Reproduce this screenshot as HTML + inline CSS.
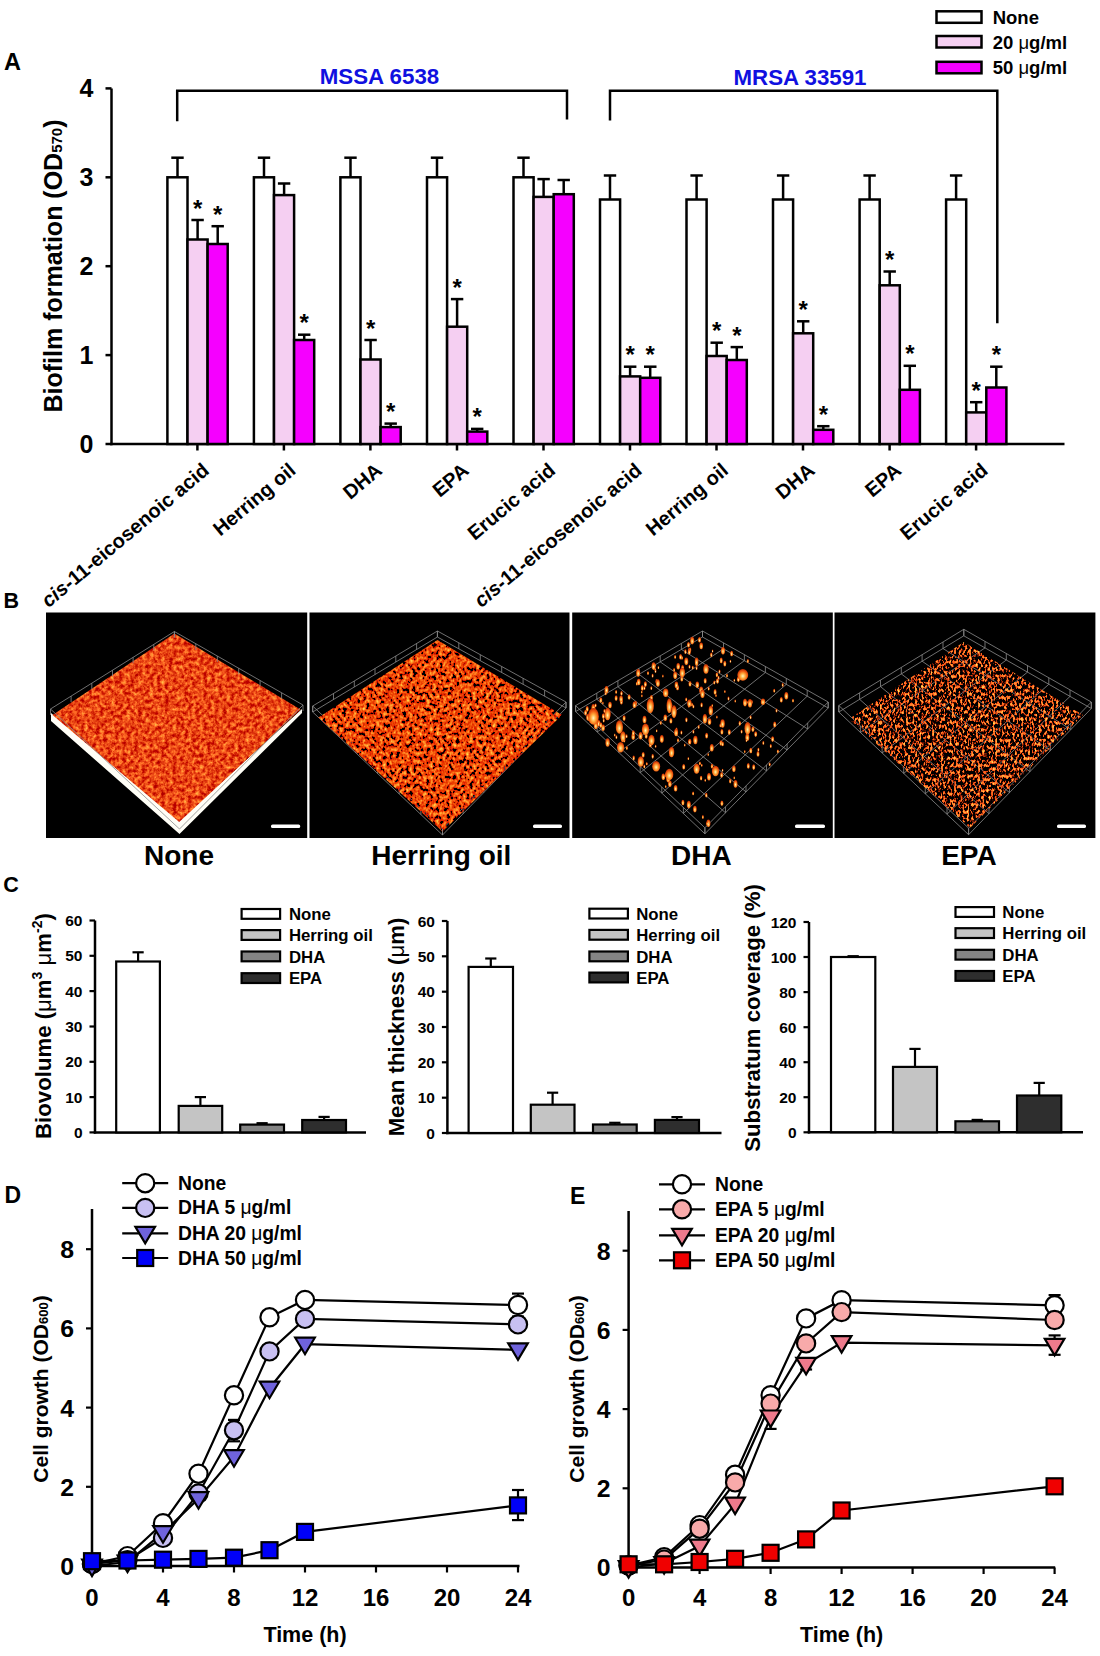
<!DOCTYPE html>
<html><head><meta charset="utf-8"><style>
html,body{margin:0;padding:0;background:#fff;width:1100px;height:1656px;overflow:hidden}
svg{display:block;font-family:"Liberation Sans", sans-serif}
</style></head><body>
<svg width="1100" height="1656" viewBox="0 0 1100 1656">
<rect width="1100" height="1656" fill="#fff"/>
<text x="4.0" y="69.5" font-size="23.5" text-anchor="start" font-weight="bold" fill="#000" >A</text>
<line x1="111.5" y1="88.4" x2="111.5" y2="445.2" stroke="#000" stroke-width="2.5"/>
<line x1="110.3" y1="444.0" x2="1064.5" y2="444.0" stroke="#000" stroke-width="2.5"/>
<line x1="105.5" y1="444.0" x2="111.5" y2="444.0" stroke="#000" stroke-width="2.5"/>
<text x="93.5" y="453.0" font-size="25" text-anchor="end" font-weight="bold" fill="#000" >0</text>
<line x1="105.5" y1="355.1" x2="111.5" y2="355.1" stroke="#000" stroke-width="2.5"/>
<text x="93.5" y="364.1" font-size="25" text-anchor="end" font-weight="bold" fill="#000" >1</text>
<line x1="105.5" y1="266.2" x2="111.5" y2="266.2" stroke="#000" stroke-width="2.5"/>
<text x="93.5" y="275.2" font-size="25" text-anchor="end" font-weight="bold" fill="#000" >2</text>
<line x1="105.5" y1="177.3" x2="111.5" y2="177.3" stroke="#000" stroke-width="2.5"/>
<text x="93.5" y="186.3" font-size="25" text-anchor="end" font-weight="bold" fill="#000" >3</text>
<line x1="105.5" y1="88.4" x2="111.5" y2="88.4" stroke="#000" stroke-width="2.5"/>
<text x="93.5" y="97.4" font-size="25" text-anchor="end" font-weight="bold" fill="#000" >4</text>
<text transform="translate(61.8,266) rotate(-90)" font-size="25" font-weight="bold" text-anchor="middle">Biofilm formation (OD<tspan font-size="15" dy="0">570</tspan>)</text>
<line x1="177.5" y1="157.7" x2="177.5" y2="177.3" stroke="#000" stroke-width="2.5"/>
<line x1="171.3" y1="157.7" x2="183.7" y2="157.7" stroke="#000" stroke-width="2.5"/>
<rect x="167.4" y="177.3" width="20.1" height="266.7" fill="#fff" stroke="#000" stroke-width="2.5"/>
<line x1="197.6" y1="220.0" x2="197.6" y2="239.5" stroke="#000" stroke-width="2.5"/>
<line x1="191.4" y1="220.0" x2="203.8" y2="220.0" stroke="#000" stroke-width="2.5"/>
<rect x="187.5" y="239.5" width="20.1" height="204.5" fill="#F5CFF2" stroke="#000" stroke-width="2.5"/>
<text x="197.6" y="216.5" font-size="24" text-anchor="middle" font-weight="bold" fill="#000" >*</text>
<line x1="217.7" y1="226.2" x2="217.7" y2="244.0" stroke="#000" stroke-width="2.5"/>
<line x1="211.5" y1="226.2" x2="223.9" y2="226.2" stroke="#000" stroke-width="2.5"/>
<rect x="207.6" y="244.0" width="20.1" height="200.0" fill="#F500FF" stroke="#000" stroke-width="2.5"/>
<text x="217.7" y="222.7" font-size="24" text-anchor="middle" font-weight="bold" fill="#000" >*</text>
<line x1="197.4" y1="444.0" x2="197.4" y2="450.5" stroke="#000" stroke-width="2.5"/>
<line x1="264.0" y1="157.7" x2="264.0" y2="177.3" stroke="#000" stroke-width="2.5"/>
<line x1="257.8" y1="157.7" x2="270.2" y2="157.7" stroke="#000" stroke-width="2.5"/>
<rect x="253.9" y="177.3" width="20.1" height="266.7" fill="#fff" stroke="#000" stroke-width="2.5"/>
<line x1="284.1" y1="183.5" x2="284.1" y2="195.1" stroke="#000" stroke-width="2.5"/>
<line x1="277.9" y1="183.5" x2="290.3" y2="183.5" stroke="#000" stroke-width="2.5"/>
<rect x="274.0" y="195.1" width="20.1" height="248.9" fill="#F5CFF2" stroke="#000" stroke-width="2.5"/>
<line x1="304.2" y1="334.7" x2="304.2" y2="340.0" stroke="#000" stroke-width="2.5"/>
<line x1="298.0" y1="334.7" x2="310.4" y2="334.7" stroke="#000" stroke-width="2.5"/>
<rect x="294.1" y="340.0" width="20.1" height="104.0" fill="#F500FF" stroke="#000" stroke-width="2.5"/>
<text x="304.2" y="331.2" font-size="24" text-anchor="middle" font-weight="bold" fill="#000" >*</text>
<line x1="283.9" y1="444.0" x2="283.9" y2="450.5" stroke="#000" stroke-width="2.5"/>
<line x1="350.5" y1="157.7" x2="350.5" y2="177.3" stroke="#000" stroke-width="2.5"/>
<line x1="344.3" y1="157.7" x2="356.7" y2="157.7" stroke="#000" stroke-width="2.5"/>
<rect x="340.4" y="177.3" width="20.1" height="266.7" fill="#fff" stroke="#000" stroke-width="2.5"/>
<line x1="370.6" y1="340.0" x2="370.6" y2="359.5" stroke="#000" stroke-width="2.5"/>
<line x1="364.4" y1="340.0" x2="376.8" y2="340.0" stroke="#000" stroke-width="2.5"/>
<rect x="360.5" y="359.5" width="20.1" height="84.5" fill="#F5CFF2" stroke="#000" stroke-width="2.5"/>
<text x="370.6" y="336.5" font-size="24" text-anchor="middle" font-weight="bold" fill="#000" >*</text>
<line x1="390.7" y1="423.6" x2="390.7" y2="427.1" stroke="#000" stroke-width="2.5"/>
<line x1="384.5" y1="423.6" x2="396.9" y2="423.6" stroke="#000" stroke-width="2.5"/>
<rect x="380.6" y="427.1" width="20.1" height="16.9" fill="#F500FF" stroke="#000" stroke-width="2.5"/>
<text x="390.7" y="420.1" font-size="24" text-anchor="middle" font-weight="bold" fill="#000" >*</text>
<line x1="370.4" y1="444.0" x2="370.4" y2="450.5" stroke="#000" stroke-width="2.5"/>
<line x1="437.0" y1="157.7" x2="437.0" y2="177.3" stroke="#000" stroke-width="2.5"/>
<line x1="430.8" y1="157.7" x2="443.2" y2="157.7" stroke="#000" stroke-width="2.5"/>
<rect x="427.0" y="177.3" width="20.1" height="266.7" fill="#fff" stroke="#000" stroke-width="2.5"/>
<line x1="457.1" y1="299.1" x2="457.1" y2="326.7" stroke="#000" stroke-width="2.5"/>
<line x1="450.9" y1="299.1" x2="463.3" y2="299.1" stroke="#000" stroke-width="2.5"/>
<rect x="447.1" y="326.7" width="20.1" height="117.3" fill="#F5CFF2" stroke="#000" stroke-width="2.5"/>
<text x="457.1" y="295.6" font-size="24" text-anchor="middle" font-weight="bold" fill="#000" >*</text>
<line x1="477.2" y1="428.9" x2="477.2" y2="431.6" stroke="#000" stroke-width="2.5"/>
<line x1="471.0" y1="428.9" x2="483.4" y2="428.9" stroke="#000" stroke-width="2.5"/>
<rect x="467.2" y="431.6" width="20.1" height="12.4" fill="#F500FF" stroke="#000" stroke-width="2.5"/>
<text x="477.2" y="425.4" font-size="24" text-anchor="middle" font-weight="bold" fill="#000" >*</text>
<line x1="457.0" y1="444.0" x2="457.0" y2="450.5" stroke="#000" stroke-width="2.5"/>
<line x1="523.5" y1="157.7" x2="523.5" y2="177.3" stroke="#000" stroke-width="2.5"/>
<line x1="517.3" y1="157.7" x2="529.7" y2="157.7" stroke="#000" stroke-width="2.5"/>
<rect x="513.5" y="177.3" width="20.1" height="266.7" fill="#fff" stroke="#000" stroke-width="2.5"/>
<line x1="543.6" y1="179.1" x2="543.6" y2="196.9" stroke="#000" stroke-width="2.5"/>
<line x1="537.4" y1="179.1" x2="549.8" y2="179.1" stroke="#000" stroke-width="2.5"/>
<rect x="533.6" y="196.9" width="20.1" height="247.1" fill="#F5CFF2" stroke="#000" stroke-width="2.5"/>
<line x1="563.7" y1="180.0" x2="563.7" y2="194.2" stroke="#000" stroke-width="2.5"/>
<line x1="557.5" y1="180.0" x2="569.9" y2="180.0" stroke="#000" stroke-width="2.5"/>
<rect x="553.7" y="194.2" width="20.1" height="249.8" fill="#F500FF" stroke="#000" stroke-width="2.5"/>
<line x1="543.5" y1="444.0" x2="543.5" y2="450.5" stroke="#000" stroke-width="2.5"/>
<line x1="610.0" y1="175.5" x2="610.0" y2="199.5" stroke="#000" stroke-width="2.5"/>
<line x1="603.8" y1="175.5" x2="616.2" y2="175.5" stroke="#000" stroke-width="2.5"/>
<rect x="600.0" y="199.5" width="20.1" height="244.5" fill="#fff" stroke="#000" stroke-width="2.5"/>
<line x1="630.1" y1="366.7" x2="630.1" y2="376.4" stroke="#000" stroke-width="2.5"/>
<line x1="623.9" y1="366.7" x2="636.4" y2="366.7" stroke="#000" stroke-width="2.5"/>
<rect x="620.1" y="376.4" width="20.1" height="67.6" fill="#F5CFF2" stroke="#000" stroke-width="2.5"/>
<text x="630.1" y="363.2" font-size="24" text-anchor="middle" font-weight="bold" fill="#000" >*</text>
<line x1="650.2" y1="366.7" x2="650.2" y2="377.8" stroke="#000" stroke-width="2.5"/>
<line x1="644.0" y1="366.7" x2="656.5" y2="366.7" stroke="#000" stroke-width="2.5"/>
<rect x="640.2" y="377.8" width="20.1" height="66.2" fill="#F500FF" stroke="#000" stroke-width="2.5"/>
<text x="650.2" y="363.2" font-size="24" text-anchor="middle" font-weight="bold" fill="#000" >*</text>
<line x1="630.0" y1="444.0" x2="630.0" y2="450.5" stroke="#000" stroke-width="2.5"/>
<line x1="696.6" y1="175.5" x2="696.6" y2="199.5" stroke="#000" stroke-width="2.5"/>
<line x1="690.4" y1="175.5" x2="702.8" y2="175.5" stroke="#000" stroke-width="2.5"/>
<rect x="686.5" y="199.5" width="20.1" height="244.5" fill="#fff" stroke="#000" stroke-width="2.5"/>
<line x1="716.7" y1="342.7" x2="716.7" y2="356.0" stroke="#000" stroke-width="2.5"/>
<line x1="710.5" y1="342.7" x2="722.9" y2="342.7" stroke="#000" stroke-width="2.5"/>
<rect x="706.6" y="356.0" width="20.1" height="88.0" fill="#F5CFF2" stroke="#000" stroke-width="2.5"/>
<text x="716.7" y="339.2" font-size="24" text-anchor="middle" font-weight="bold" fill="#000" >*</text>
<line x1="736.8" y1="347.1" x2="736.8" y2="360.0" stroke="#000" stroke-width="2.5"/>
<line x1="730.6" y1="347.1" x2="743.0" y2="347.1" stroke="#000" stroke-width="2.5"/>
<rect x="726.7" y="360.0" width="20.1" height="84.0" fill="#F500FF" stroke="#000" stroke-width="2.5"/>
<text x="736.8" y="343.6" font-size="24" text-anchor="middle" font-weight="bold" fill="#000" >*</text>
<line x1="716.5" y1="444.0" x2="716.5" y2="450.5" stroke="#000" stroke-width="2.5"/>
<line x1="783.1" y1="175.5" x2="783.1" y2="199.5" stroke="#000" stroke-width="2.5"/>
<line x1="776.9" y1="175.5" x2="789.3" y2="175.5" stroke="#000" stroke-width="2.5"/>
<rect x="773.0" y="199.5" width="20.1" height="244.5" fill="#fff" stroke="#000" stroke-width="2.5"/>
<line x1="803.2" y1="321.3" x2="803.2" y2="333.3" stroke="#000" stroke-width="2.5"/>
<line x1="797.0" y1="321.3" x2="809.4" y2="321.3" stroke="#000" stroke-width="2.5"/>
<rect x="793.1" y="333.3" width="20.1" height="110.7" fill="#F5CFF2" stroke="#000" stroke-width="2.5"/>
<text x="803.2" y="317.8" font-size="24" text-anchor="middle" font-weight="bold" fill="#000" >*</text>
<line x1="823.3" y1="426.2" x2="823.3" y2="429.8" stroke="#000" stroke-width="2.5"/>
<line x1="817.1" y1="426.2" x2="829.5" y2="426.2" stroke="#000" stroke-width="2.5"/>
<rect x="813.2" y="429.8" width="20.1" height="14.2" fill="#F500FF" stroke="#000" stroke-width="2.5"/>
<text x="823.3" y="422.7" font-size="24" text-anchor="middle" font-weight="bold" fill="#000" >*</text>
<line x1="803.0" y1="444.0" x2="803.0" y2="450.5" stroke="#000" stroke-width="2.5"/>
<line x1="869.6" y1="175.5" x2="869.6" y2="199.5" stroke="#000" stroke-width="2.5"/>
<line x1="863.4" y1="175.5" x2="875.8" y2="175.5" stroke="#000" stroke-width="2.5"/>
<rect x="859.6" y="199.5" width="20.1" height="244.5" fill="#fff" stroke="#000" stroke-width="2.5"/>
<line x1="889.7" y1="271.5" x2="889.7" y2="285.3" stroke="#000" stroke-width="2.5"/>
<line x1="883.5" y1="271.5" x2="895.9" y2="271.5" stroke="#000" stroke-width="2.5"/>
<rect x="879.7" y="285.3" width="20.1" height="158.7" fill="#F5CFF2" stroke="#000" stroke-width="2.5"/>
<text x="889.7" y="268.0" font-size="24" text-anchor="middle" font-weight="bold" fill="#000" >*</text>
<line x1="909.8" y1="365.8" x2="909.8" y2="389.8" stroke="#000" stroke-width="2.5"/>
<line x1="903.6" y1="365.8" x2="916.0" y2="365.8" stroke="#000" stroke-width="2.5"/>
<rect x="899.8" y="389.8" width="20.1" height="54.2" fill="#F500FF" stroke="#000" stroke-width="2.5"/>
<text x="909.8" y="362.3" font-size="24" text-anchor="middle" font-weight="bold" fill="#000" >*</text>
<line x1="889.6" y1="444.0" x2="889.6" y2="450.5" stroke="#000" stroke-width="2.5"/>
<line x1="956.1" y1="175.5" x2="956.1" y2="199.5" stroke="#000" stroke-width="2.5"/>
<line x1="949.9" y1="175.5" x2="962.3" y2="175.5" stroke="#000" stroke-width="2.5"/>
<rect x="946.1" y="199.5" width="20.1" height="244.5" fill="#fff" stroke="#000" stroke-width="2.5"/>
<line x1="976.2" y1="402.2" x2="976.2" y2="412.4" stroke="#000" stroke-width="2.5"/>
<line x1="970.0" y1="402.2" x2="982.4" y2="402.2" stroke="#000" stroke-width="2.5"/>
<rect x="966.2" y="412.4" width="20.1" height="31.6" fill="#F5CFF2" stroke="#000" stroke-width="2.5"/>
<text x="976.2" y="398.7" font-size="24" text-anchor="middle" font-weight="bold" fill="#000" >*</text>
<line x1="996.3" y1="366.7" x2="996.3" y2="387.5" stroke="#000" stroke-width="2.5"/>
<line x1="990.1" y1="366.7" x2="1002.5" y2="366.7" stroke="#000" stroke-width="2.5"/>
<rect x="986.3" y="387.5" width="20.1" height="56.5" fill="#F500FF" stroke="#000" stroke-width="2.5"/>
<text x="996.3" y="363.2" font-size="24" text-anchor="middle" font-weight="bold" fill="#000" >*</text>
<line x1="976.1" y1="444.0" x2="976.1" y2="450.5" stroke="#000" stroke-width="2.5"/>
<text transform="translate(210.4,472.5) rotate(-40)" font-size="20" font-weight="bold" text-anchor="end"><tspan font-style="italic">cis</tspan>-11-eicosenoic acid</text>
<text transform="translate(296.9,472.5) rotate(-40)" font-size="20" font-weight="bold" text-anchor="end">Herring oil</text>
<text transform="translate(383.4,472.5) rotate(-40)" font-size="20" font-weight="bold" text-anchor="end">DHA</text>
<text transform="translate(470.0,472.5) rotate(-40)" font-size="20" font-weight="bold" text-anchor="end">EPA</text>
<text transform="translate(556.5,472.5) rotate(-40)" font-size="20" font-weight="bold" text-anchor="end">Erucic acid</text>
<text transform="translate(643.0,472.5) rotate(-40)" font-size="20" font-weight="bold" text-anchor="end"><tspan font-style="italic">cis</tspan>-11-eicosenoic acid</text>
<text transform="translate(729.5,472.5) rotate(-40)" font-size="20" font-weight="bold" text-anchor="end">Herring oil</text>
<text transform="translate(816.0,472.5) rotate(-40)" font-size="20" font-weight="bold" text-anchor="end">DHA</text>
<text transform="translate(902.6,472.5) rotate(-40)" font-size="20" font-weight="bold" text-anchor="end">EPA</text>
<text transform="translate(989.1,472.5) rotate(-40)" font-size="20" font-weight="bold" text-anchor="end">Erucic acid</text>
<path d="M177.2,121.3 V90.8 H567 V119.6" fill="none" stroke="#000" stroke-width="2.5"/>
<path d="M610,120.5 V90.8 H997.3 V323.3" fill="none" stroke="#000" stroke-width="2.5"/>
<text x="379.5" y="84.0" font-size="22.3" text-anchor="middle" font-weight="bold" fill="#1010E0" >MSSA 6538</text>
<text x="800.0" y="85.0" font-size="22.3" text-anchor="middle" font-weight="bold" fill="#1010E0" >MRSA 33591</text>
<rect x="936.5" y="11.3" width="45.0" height="11.5" fill="#fff" stroke="#000" stroke-width="2.5"/>
<text x="992.7" y="23.8" font-size="18.5" text-anchor="start" font-weight="bold" fill="#000" >None</text>
<rect x="936.5" y="36.0" width="45.0" height="11.5" fill="#F5CFF2" stroke="#000" stroke-width="2.5"/>
<text x="992.7" y="48.5" font-size="18.5" text-anchor="start" font-weight="bold" fill="#000" >20 <tspan font-weight="normal">μ</tspan>g/ml</text>
<rect x="936.5" y="61.8" width="45.0" height="11.5" fill="#F500FF" stroke="#000" stroke-width="2.5"/>
<text x="992.7" y="74.3" font-size="18.5" text-anchor="start" font-weight="bold" fill="#000" >50 <tspan font-weight="normal">μ</tspan>g/ml</text>
<text x="3.5" y="607.8" font-size="21.5" text-anchor="start" font-weight="bold" fill="#000" >B</text>
<rect x="46" y="612.5" width="261.2" height="225.5" fill="#000"/>
<rect x="309.5" y="612.5" width="260.0" height="225.5" fill="#000"/>
<rect x="572.2" y="612.5" width="260.6" height="225.5" fill="#000"/>
<rect x="834.5" y="612.5" width="260.9" height="225.5" fill="#000"/>
<defs>
<radialGradient id="bg" cx="0.5" cy="0.6" r="0.6"><stop offset="0" stop-color="#FFF4C0"/><stop offset="0.35" stop-color="#FFB040"/><stop offset="0.7" stop-color="#F05A10"/><stop offset="1" stop-color="#B82800"/></radialGradient>
<filter id="t1" x="40" y="610" width="270" height="230" filterUnits="userSpaceOnUse" color-interpolation-filters="sRGB">
<feTurbulence type="fractalNoise" baseFrequency="0.26" numOctaves="3" seed="4"/>
<feColorMatrix type="matrix" values="0.7 0 0 0 0.56  1.15 0 0 0 -0.3  0.5 0 0 0 -0.17  0 0 0 0 1"/>
</filter>
<filter id="t2" x="300" y="610" width="280" height="230" filterUnits="userSpaceOnUse" color-interpolation-filters="sRGB">
<feTurbulence type="fractalNoise" baseFrequency="0.3 0.25" numOctaves="2" seed="7"/>
<feColorMatrix type="matrix" values="0.6 0 0 0 0.62  1.6 0 0 0 -0.55  0.8 0 0 0 -0.4  14 0 0 0 -4.6"/>
</filter>
<filter id="t4" x="830" y="610" width="270" height="230" filterUnits="userSpaceOnUse" color-interpolation-filters="sRGB">
<feTurbulence type="fractalNoise" baseFrequency="0.46 0.28" numOctaves="2" seed="11"/>
<feColorMatrix type="matrix" values="0.8 0 0 0 0.5  2.1 0 0 0 -0.9  1.0 0 0 0 -0.5  9 0 0 0 -4.2"/>
</filter>
<clipPath id="c1"><polygon points="174.4,633.6 300.6,709.5 179.2,822 52.5,715"/></clipPath>
<clipPath id="c2"><polygon points="437.5,640 562,715 442.5,831.5 318.5,717.5"/></clipPath>
<clipPath id="c4"><polygon points="963.8,642 1083,715 970,828 849,719"/></clipPath>
</defs>
<polygon points="51,713 179,821 302,709 302,713 179.5,834 51,721" fill="#FFFEF6"/>
<rect x="40" y="610" width="270" height="230" fill="#fff" filter="url(#t1)" clip-path="url(#c1)"/>
<polygon points="174.4,631.5 303.0,705.0 179.5,829.0 50.5,709.0" fill="none" stroke="#8C8C8C" stroke-width="0.8"/>
<line x1="174.4" y1="637.5" x2="174.4" y2="631.5" stroke="#8C8C8C" stroke-width="0.8"/>
<line x1="174.4" y1="637.5" x2="174.4" y2="631.5" stroke="#8C8C8C" stroke-width="0.8"/>
<line x1="195.8" y1="649.8" x2="195.8" y2="643.8" stroke="#8C8C8C" stroke-width="0.8"/>
<line x1="153.8" y1="650.4" x2="153.8" y2="644.4" stroke="#8C8C8C" stroke-width="0.8"/>
<line x1="217.3" y1="662.0" x2="217.3" y2="656.0" stroke="#8C8C8C" stroke-width="0.8"/>
<line x1="133.1" y1="663.3" x2="133.1" y2="657.3" stroke="#8C8C8C" stroke-width="0.8"/>
<line x1="238.7" y1="674.2" x2="238.7" y2="668.2" stroke="#8C8C8C" stroke-width="0.8"/>
<line x1="112.5" y1="676.2" x2="112.5" y2="670.2" stroke="#8C8C8C" stroke-width="0.8"/>
<line x1="260.1" y1="686.5" x2="260.1" y2="680.5" stroke="#8C8C8C" stroke-width="0.8"/>
<line x1="91.8" y1="689.2" x2="91.8" y2="683.2" stroke="#8C8C8C" stroke-width="0.8"/>
<line x1="281.6" y1="698.8" x2="281.6" y2="692.8" stroke="#8C8C8C" stroke-width="0.8"/>
<line x1="71.1" y1="702.1" x2="71.1" y2="696.1" stroke="#8C8C8C" stroke-width="0.8"/>
<line x1="303.0" y1="711.0" x2="303.0" y2="705.0" stroke="#8C8C8C" stroke-width="0.8"/>
<line x1="50.5" y1="715.0" x2="50.5" y2="709.0" stroke="#8C8C8C" stroke-width="0.8"/>
<polygon points="437.4,631.0 566.0,702.0 442.5,829.0 312.7,706.0" fill="none" stroke="#8C8C8C" stroke-width="0.8"/>
<polygon points="437.4,637.0 566.0,708.0 442.5,835.0 312.7,712.0" fill="none" stroke="#8C8C8C" stroke-width="0.8"/>
<line x1="437.4" y1="637.0" x2="437.4" y2="631.0" stroke="#8C8C8C" stroke-width="0.8"/>
<line x1="437.4" y1="637.0" x2="437.4" y2="631.0" stroke="#8C8C8C" stroke-width="0.8"/>
<line x1="312.7" y1="712.0" x2="312.7" y2="706.0" stroke="#8C8C8C" stroke-width="0.8"/>
<line x1="566.0" y1="708.0" x2="566.0" y2="702.0" stroke="#8C8C8C" stroke-width="0.8"/>
<line x1="458.8" y1="648.8" x2="458.8" y2="642.8" stroke="#8C8C8C" stroke-width="0.8"/>
<line x1="416.6" y1="649.5" x2="416.6" y2="643.5" stroke="#8C8C8C" stroke-width="0.8"/>
<line x1="334.3" y1="732.5" x2="334.3" y2="726.5" stroke="#8C8C8C" stroke-width="0.8"/>
<line x1="545.4" y1="729.2" x2="545.4" y2="723.2" stroke="#8C8C8C" stroke-width="0.8"/>
<line x1="480.3" y1="660.7" x2="480.3" y2="654.7" stroke="#8C8C8C" stroke-width="0.8"/>
<line x1="395.8" y1="662.0" x2="395.8" y2="656.0" stroke="#8C8C8C" stroke-width="0.8"/>
<line x1="356.0" y1="753.0" x2="356.0" y2="747.0" stroke="#8C8C8C" stroke-width="0.8"/>
<line x1="524.8" y1="750.3" x2="524.8" y2="744.3" stroke="#8C8C8C" stroke-width="0.8"/>
<line x1="501.7" y1="672.5" x2="501.7" y2="666.5" stroke="#8C8C8C" stroke-width="0.8"/>
<line x1="375.0" y1="674.5" x2="375.0" y2="668.5" stroke="#8C8C8C" stroke-width="0.8"/>
<line x1="377.6" y1="773.5" x2="377.6" y2="767.5" stroke="#8C8C8C" stroke-width="0.8"/>
<line x1="504.2" y1="771.5" x2="504.2" y2="765.5" stroke="#8C8C8C" stroke-width="0.8"/>
<line x1="523.1" y1="684.3" x2="523.1" y2="678.3" stroke="#8C8C8C" stroke-width="0.8"/>
<line x1="354.3" y1="687.0" x2="354.3" y2="681.0" stroke="#8C8C8C" stroke-width="0.8"/>
<line x1="399.2" y1="794.0" x2="399.2" y2="788.0" stroke="#8C8C8C" stroke-width="0.8"/>
<line x1="483.7" y1="792.7" x2="483.7" y2="786.7" stroke="#8C8C8C" stroke-width="0.8"/>
<line x1="544.6" y1="696.2" x2="544.6" y2="690.2" stroke="#8C8C8C" stroke-width="0.8"/>
<line x1="333.5" y1="699.5" x2="333.5" y2="693.5" stroke="#8C8C8C" stroke-width="0.8"/>
<line x1="420.9" y1="814.5" x2="420.9" y2="808.5" stroke="#8C8C8C" stroke-width="0.8"/>
<line x1="463.1" y1="813.8" x2="463.1" y2="807.8" stroke="#8C8C8C" stroke-width="0.8"/>
<line x1="566.0" y1="708.0" x2="566.0" y2="702.0" stroke="#8C8C8C" stroke-width="0.8"/>
<line x1="312.7" y1="712.0" x2="312.7" y2="706.0" stroke="#8C8C8C" stroke-width="0.8"/>
<line x1="442.5" y1="835.0" x2="442.5" y2="829.0" stroke="#8C8C8C" stroke-width="0.8"/>
<line x1="442.5" y1="835.0" x2="442.5" y2="829.0" stroke="#8C8C8C" stroke-width="0.8"/>
<rect x="300" y="610" width="280" height="230" fill="#fff" filter="url(#t2)" clip-path="url(#c2)"/>
<polygon points="702.5,631.0 828.2,702.0 704.9,827.8 575.6,705.6" fill="none" stroke="#8C8C8C" stroke-width="0.8"/>
<polygon points="702.5,637.0 828.2,708.0 704.9,833.8 575.6,711.6" fill="none" stroke="#8C8C8C" stroke-width="0.8"/>
<line x1="702.5" y1="637.0" x2="702.5" y2="631.0" stroke="#8C8C8C" stroke-width="0.8"/>
<line x1="702.5" y1="637.0" x2="702.5" y2="631.0" stroke="#8C8C8C" stroke-width="0.8"/>
<line x1="575.6" y1="711.6" x2="575.6" y2="705.6" stroke="#8C8C8C" stroke-width="0.8"/>
<line x1="828.2" y1="708.0" x2="828.2" y2="702.0" stroke="#8C8C8C" stroke-width="0.8"/>
<line x1="723.5" y1="648.8" x2="723.5" y2="642.8" stroke="#8C8C8C" stroke-width="0.8"/>
<line x1="681.4" y1="649.4" x2="681.4" y2="643.4" stroke="#8C8C8C" stroke-width="0.8"/>
<line x1="597.1" y1="732.0" x2="597.1" y2="726.0" stroke="#8C8C8C" stroke-width="0.8"/>
<line x1="807.7" y1="729.0" x2="807.7" y2="723.0" stroke="#8C8C8C" stroke-width="0.8"/>
<line x1="744.4" y1="660.7" x2="744.4" y2="654.7" stroke="#8C8C8C" stroke-width="0.8"/>
<line x1="660.2" y1="661.9" x2="660.2" y2="655.9" stroke="#8C8C8C" stroke-width="0.8"/>
<line x1="618.7" y1="752.3" x2="618.7" y2="746.3" stroke="#8C8C8C" stroke-width="0.8"/>
<line x1="787.1" y1="749.9" x2="787.1" y2="743.9" stroke="#8C8C8C" stroke-width="0.8"/>
<line x1="765.4" y1="672.5" x2="765.4" y2="666.5" stroke="#8C8C8C" stroke-width="0.8"/>
<line x1="639.0" y1="674.3" x2="639.0" y2="668.3" stroke="#8C8C8C" stroke-width="0.8"/>
<line x1="640.2" y1="772.7" x2="640.2" y2="766.7" stroke="#8C8C8C" stroke-width="0.8"/>
<line x1="766.5" y1="770.9" x2="766.5" y2="764.9" stroke="#8C8C8C" stroke-width="0.8"/>
<line x1="786.3" y1="684.3" x2="786.3" y2="678.3" stroke="#8C8C8C" stroke-width="0.8"/>
<line x1="617.9" y1="686.7" x2="617.9" y2="680.7" stroke="#8C8C8C" stroke-width="0.8"/>
<line x1="661.8" y1="793.1" x2="661.8" y2="787.1" stroke="#8C8C8C" stroke-width="0.8"/>
<line x1="746.0" y1="791.9" x2="746.0" y2="785.9" stroke="#8C8C8C" stroke-width="0.8"/>
<line x1="807.2" y1="696.2" x2="807.2" y2="690.2" stroke="#8C8C8C" stroke-width="0.8"/>
<line x1="596.8" y1="699.2" x2="596.8" y2="693.2" stroke="#8C8C8C" stroke-width="0.8"/>
<line x1="683.4" y1="813.4" x2="683.4" y2="807.4" stroke="#8C8C8C" stroke-width="0.8"/>
<line x1="725.5" y1="812.8" x2="725.5" y2="806.8" stroke="#8C8C8C" stroke-width="0.8"/>
<line x1="828.2" y1="708.0" x2="828.2" y2="702.0" stroke="#8C8C8C" stroke-width="0.8"/>
<line x1="575.6" y1="711.6" x2="575.6" y2="705.6" stroke="#8C8C8C" stroke-width="0.8"/>
<line x1="704.9" y1="833.8" x2="704.9" y2="827.8" stroke="#8C8C8C" stroke-width="0.8"/>
<line x1="704.9" y1="833.8" x2="704.9" y2="827.8" stroke="#8C8C8C" stroke-width="0.8"/>
<line x1="723.5" y1="648.8" x2="597.1" y2="732.0" stroke="#8C8C8C" stroke-width="0.8"/>
<line x1="681.4" y1="649.4" x2="807.7" y2="729.0" stroke="#8C8C8C" stroke-width="0.8"/>
<line x1="744.4" y1="660.7" x2="618.7" y2="752.3" stroke="#8C8C8C" stroke-width="0.8"/>
<line x1="660.2" y1="661.9" x2="787.1" y2="749.9" stroke="#8C8C8C" stroke-width="0.8"/>
<line x1="765.4" y1="672.5" x2="640.2" y2="772.7" stroke="#8C8C8C" stroke-width="0.8"/>
<line x1="639.0" y1="674.3" x2="766.5" y2="770.9" stroke="#8C8C8C" stroke-width="0.8"/>
<line x1="786.3" y1="684.3" x2="661.8" y2="793.1" stroke="#8C8C8C" stroke-width="0.8"/>
<line x1="617.9" y1="686.7" x2="746.0" y2="791.9" stroke="#8C8C8C" stroke-width="0.8"/>
<line x1="807.2" y1="696.2" x2="683.4" y2="813.4" stroke="#8C8C8C" stroke-width="0.8"/>
<line x1="596.8" y1="699.2" x2="725.5" y2="812.8" stroke="#8C8C8C" stroke-width="0.8"/>
<ellipse cx="688.3" cy="758.6" rx="0.8" ry="1.5" fill="url(#bg)"/>
<ellipse cx="689.1" cy="650.3" rx="1.2" ry="2.4" fill="url(#bg)"/>
<ellipse cx="763.3" cy="742.9" rx="1.0" ry="1.9" fill="url(#bg)"/>
<ellipse cx="641.9" cy="695.7" rx="0.8" ry="1.5" fill="url(#bg)"/>
<ellipse cx="716.9" cy="674.8" rx="1.2" ry="2.4" fill="url(#bg)"/>
<ellipse cx="603.1" cy="727.7" rx="1.8" ry="3.3" fill="url(#bg)"/>
<ellipse cx="712.6" cy="651.1" rx="0.8" ry="1.5" fill="url(#bg)"/>
<ellipse cx="708.7" cy="688.6" rx="1.0" ry="1.9" fill="url(#bg)"/>
<ellipse cx="685.4" cy="651.7" rx="1.2" ry="2.4" fill="url(#bg)"/>
<ellipse cx="686.3" cy="661.3" rx="2.0" ry="3.8" fill="url(#bg)"/>
<ellipse cx="701.2" cy="690.2" rx="2.0" ry="3.8" fill="url(#bg)"/>
<ellipse cx="621.4" cy="701.6" rx="1.5" ry="2.8" fill="url(#bg)"/>
<ellipse cx="587.2" cy="708.9" rx="1.5" ry="2.8" fill="url(#bg)"/>
<ellipse cx="750.6" cy="717.3" rx="1.0" ry="1.9" fill="url(#bg)"/>
<ellipse cx="714.3" cy="682.5" rx="1.0" ry="1.9" fill="url(#bg)"/>
<ellipse cx="593.4" cy="707.9" rx="2.0" ry="3.8" fill="url(#bg)"/>
<ellipse cx="718.5" cy="677.7" rx="1.0" ry="1.9" fill="url(#bg)"/>
<ellipse cx="738.4" cy="679.3" rx="1.5" ry="2.8" fill="url(#bg)"/>
<ellipse cx="603.7" cy="720.5" rx="1.0" ry="1.9" fill="url(#bg)"/>
<ellipse cx="708.4" cy="823.3" rx="2.0" ry="3.8" fill="url(#bg)"/>
<ellipse cx="698.7" cy="726.9" rx="1.0" ry="1.9" fill="url(#bg)"/>
<ellipse cx="705.2" cy="780.2" rx="0.8" ry="1.5" fill="url(#bg)"/>
<ellipse cx="752.9" cy="729.2" rx="1.5" ry="2.8" fill="url(#bg)"/>
<ellipse cx="774.7" cy="724.4" rx="1.5" ry="2.8" fill="url(#bg)"/>
<ellipse cx="750.8" cy="750.5" rx="1.5" ry="2.8" fill="url(#bg)"/>
<ellipse cx="729.3" cy="732.1" rx="1.5" ry="2.8" fill="url(#bg)"/>
<ellipse cx="665.3" cy="717.7" rx="1.8" ry="3.3" fill="url(#bg)"/>
<ellipse cx="640.6" cy="735.8" rx="2.0" ry="3.8" fill="url(#bg)"/>
<ellipse cx="707.2" cy="823.5" rx="1.0" ry="1.9" fill="url(#bg)"/>
<ellipse cx="681.8" cy="678.8" rx="1.5" ry="2.8" fill="url(#bg)"/>
<ellipse cx="699.9" cy="763.3" rx="1.0" ry="1.9" fill="url(#bg)"/>
<ellipse cx="663.3" cy="776.7" rx="1.8" ry="3.3" fill="url(#bg)"/>
<ellipse cx="670.9" cy="705.3" rx="1.5" ry="2.8" fill="url(#bg)"/>
<ellipse cx="676.5" cy="729.5" rx="1.0" ry="1.9" fill="url(#bg)"/>
<ellipse cx="648.0" cy="673.1" rx="1.0" ry="1.9" fill="url(#bg)"/>
<ellipse cx="747.0" cy="702.2" rx="0.8" ry="1.5" fill="url(#bg)"/>
<ellipse cx="626.9" cy="748.0" rx="1.0" ry="1.9" fill="url(#bg)"/>
<ellipse cx="721.0" cy="743.0" rx="1.5" ry="2.8" fill="url(#bg)"/>
<ellipse cx="645.4" cy="684.1" rx="1.5" ry="2.8" fill="url(#bg)"/>
<ellipse cx="721.9" cy="803.3" rx="1.5" ry="2.8" fill="url(#bg)"/>
<ellipse cx="610.0" cy="705.0" rx="1.8" ry="3.3" fill="url(#bg)"/>
<ellipse cx="644.5" cy="688.0" rx="1.0" ry="1.9" fill="url(#bg)"/>
<ellipse cx="633.2" cy="736.6" rx="1.8" ry="3.3" fill="url(#bg)"/>
<ellipse cx="777.9" cy="751.3" rx="1.0" ry="1.9" fill="url(#bg)"/>
<ellipse cx="745.0" cy="702.6" rx="2.0" ry="3.8" fill="url(#bg)"/>
<ellipse cx="731.6" cy="653.5" rx="1.5" ry="2.8" fill="url(#bg)"/>
<ellipse cx="728.5" cy="698.5" rx="1.0" ry="1.9" fill="url(#bg)"/>
<ellipse cx="665.8" cy="786.4" rx="0.8" ry="1.5" fill="url(#bg)"/>
<ellipse cx="735.2" cy="701.1" rx="0.8" ry="1.5" fill="url(#bg)"/>
<ellipse cx="681.4" cy="732.5" rx="1.0" ry="1.9" fill="url(#bg)"/>
<ellipse cx="688.5" cy="644.7" rx="1.5" ry="2.8" fill="url(#bg)"/>
<ellipse cx="660.8" cy="722.9" rx="1.0" ry="1.9" fill="url(#bg)"/>
<ellipse cx="675.1" cy="656.9" rx="1.0" ry="1.9" fill="url(#bg)"/>
<ellipse cx="747.3" cy="737.2" rx="2.0" ry="3.8" fill="url(#bg)"/>
<ellipse cx="706.3" cy="795.2" rx="1.2" ry="2.4" fill="url(#bg)"/>
<ellipse cx="758.0" cy="753.9" rx="1.5" ry="2.8" fill="url(#bg)"/>
<ellipse cx="721.6" cy="774.9" rx="1.5" ry="2.8" fill="url(#bg)"/>
<ellipse cx="635.5" cy="703.5" rx="1.5" ry="2.8" fill="url(#bg)"/>
<ellipse cx="716.9" cy="717.1" rx="0.8" ry="1.5" fill="url(#bg)"/>
<ellipse cx="682.0" cy="657.8" rx="1.0" ry="1.9" fill="url(#bg)"/>
<ellipse cx="782.7" cy="684.9" rx="1.0" ry="1.9" fill="url(#bg)"/>
<ellipse cx="623.7" cy="738.0" rx="1.0" ry="1.9" fill="url(#bg)"/>
<ellipse cx="734.3" cy="680.2" rx="0.8" ry="1.5" fill="url(#bg)"/>
<ellipse cx="689.9" cy="741.5" rx="1.5" ry="2.8" fill="url(#bg)"/>
<ellipse cx="636.9" cy="683.7" rx="1.0" ry="1.9" fill="url(#bg)"/>
<ellipse cx="692.2" cy="640.6" rx="2.0" ry="3.8" fill="url(#bg)"/>
<ellipse cx="646.6" cy="763.7" rx="0.8" ry="1.5" fill="url(#bg)"/>
<ellipse cx="682.6" cy="667.9" rx="1.5" ry="2.8" fill="url(#bg)"/>
<ellipse cx="748.3" cy="765.9" rx="1.5" ry="2.8" fill="url(#bg)"/>
<ellipse cx="680.6" cy="656.8" rx="1.5" ry="2.8" fill="url(#bg)"/>
<ellipse cx="656.7" cy="730.7" rx="0.8" ry="1.5" fill="url(#bg)"/>
<ellipse cx="774.2" cy="690.7" rx="1.0" ry="1.9" fill="url(#bg)"/>
<ellipse cx="693.4" cy="706.4" rx="1.0" ry="1.9" fill="url(#bg)"/>
<ellipse cx="690.1" cy="650.0" rx="1.2" ry="2.4" fill="url(#bg)"/>
<ellipse cx="786.3" cy="695.7" rx="2.0" ry="3.8" fill="url(#bg)"/>
<ellipse cx="717.5" cy="681.0" rx="1.5" ry="2.8" fill="url(#bg)"/>
<ellipse cx="755.7" cy="734.1" rx="1.5" ry="2.8" fill="url(#bg)"/>
<ellipse cx="683.7" cy="766.7" rx="1.5" ry="2.8" fill="url(#bg)"/>
<ellipse cx="693.4" cy="731.7" rx="1.0" ry="1.9" fill="url(#bg)"/>
<ellipse cx="723.0" cy="650.7" rx="2.0" ry="3.8" fill="url(#bg)"/>
<ellipse cx="622.7" cy="739.4" rx="1.5" ry="2.8" fill="url(#bg)"/>
<ellipse cx="675.2" cy="675.3" rx="2.0" ry="3.8" fill="url(#bg)"/>
<ellipse cx="689.5" cy="666.7" rx="1.0" ry="1.9" fill="url(#bg)"/>
<ellipse cx="772.6" cy="739.1" rx="1.5" ry="2.8" fill="url(#bg)"/>
<ellipse cx="735.5" cy="783.9" rx="2.0" ry="3.8" fill="url(#bg)"/>
<ellipse cx="686.2" cy="699.4" rx="1.0" ry="1.9" fill="url(#bg)"/>
<ellipse cx="616.1" cy="691.9" rx="1.0" ry="1.9" fill="url(#bg)"/>
<ellipse cx="666.5" cy="774.7" rx="1.5" ry="2.8" fill="url(#bg)"/>
<ellipse cx="769.7" cy="764.3" rx="1.0" ry="1.9" fill="url(#bg)"/>
<ellipse cx="669.9" cy="783.8" rx="1.8" ry="3.3" fill="url(#bg)"/>
<ellipse cx="600.8" cy="700.1" rx="1.5" ry="2.8" fill="url(#bg)"/>
<ellipse cx="708.2" cy="754.5" rx="0.8" ry="1.5" fill="url(#bg)"/>
<ellipse cx="602.9" cy="703.0" rx="0.8" ry="1.5" fill="url(#bg)"/>
<ellipse cx="694.9" cy="809.1" rx="1.8" ry="3.3" fill="url(#bg)"/>
<ellipse cx="696.6" cy="668.0" rx="1.0" ry="1.9" fill="url(#bg)"/>
<ellipse cx="588.7" cy="719.0" rx="1.0" ry="1.9" fill="url(#bg)"/>
<ellipse cx="709.5" cy="721.6" rx="1.8" ry="3.3" fill="url(#bg)"/>
<ellipse cx="712.0" cy="766.2" rx="1.2" ry="2.4" fill="url(#bg)"/>
<ellipse cx="651.3" cy="688.1" rx="1.0" ry="1.9" fill="url(#bg)"/>
<ellipse cx="682.9" cy="802.5" rx="1.5" ry="2.8" fill="url(#bg)"/>
<ellipse cx="621.5" cy="693.3" rx="1.2" ry="2.4" fill="url(#bg)"/>
<ellipse cx="693.1" cy="793.4" rx="1.0" ry="1.9" fill="url(#bg)"/>
<ellipse cx="716.0" cy="695.4" rx="0.8" ry="1.5" fill="url(#bg)"/>
<ellipse cx="734.2" cy="777.8" rx="0.8" ry="1.5" fill="url(#bg)"/>
<ellipse cx="655.7" cy="746.2" rx="0.8" ry="1.5" fill="url(#bg)"/>
<ellipse cx="689.3" cy="651.9" rx="1.5" ry="2.8" fill="url(#bg)"/>
<ellipse cx="730.4" cy="661.3" rx="0.8" ry="1.5" fill="url(#bg)"/>
<ellipse cx="699.5" cy="639.8" rx="1.5" ry="2.8" fill="url(#bg)"/>
<ellipse cx="724.9" cy="691.4" rx="0.8" ry="1.5" fill="url(#bg)"/>
<ellipse cx="677.5" cy="687.5" rx="1.5" ry="2.8" fill="url(#bg)"/>
<ellipse cx="727.0" cy="675.6" rx="1.0" ry="1.9" fill="url(#bg)"/>
<ellipse cx="634.4" cy="704.8" rx="1.8" ry="3.3" fill="url(#bg)"/>
<ellipse cx="661.8" cy="738.9" rx="2.0" ry="3.8" fill="url(#bg)"/>
<ellipse cx="652.7" cy="756.3" rx="1.2" ry="2.4" fill="url(#bg)"/>
<ellipse cx="624.1" cy="718.1" rx="1.5" ry="2.8" fill="url(#bg)"/>
<ellipse cx="701.1" cy="778.1" rx="1.2" ry="2.4" fill="url(#bg)"/>
<ellipse cx="722.6" cy="770.3" rx="0.8" ry="1.5" fill="url(#bg)"/>
<ellipse cx="711.3" cy="654.8" rx="1.2" ry="2.4" fill="url(#bg)"/>
<ellipse cx="709.0" cy="776.7" rx="2.0" ry="3.8" fill="url(#bg)"/>
<ellipse cx="733.9" cy="768.8" rx="1.8" ry="3.3" fill="url(#bg)"/>
<ellipse cx="711.8" cy="747.8" rx="2.0" ry="3.8" fill="url(#bg)"/>
<ellipse cx="684.8" cy="745.0" rx="0.8" ry="1.5" fill="url(#bg)"/>
<ellipse cx="670.2" cy="755.0" rx="0.8" ry="1.5" fill="url(#bg)"/>
<ellipse cx="701.2" cy="645.9" rx="1.8" ry="3.3" fill="url(#bg)"/>
<ellipse cx="624.2" cy="740.2" rx="1.2" ry="2.4" fill="url(#bg)"/>
<ellipse cx="616.1" cy="698.1" rx="1.5" ry="2.8" fill="url(#bg)"/>
<ellipse cx="730.2" cy="781.1" rx="1.2" ry="2.4" fill="url(#bg)"/>
<ellipse cx="646.7" cy="732.0" rx="0.8" ry="1.5" fill="url(#bg)"/>
<ellipse cx="739.8" cy="723.3" rx="1.2" ry="2.4" fill="url(#bg)"/>
<ellipse cx="629.1" cy="697.0" rx="1.5" ry="2.8" fill="url(#bg)"/>
<ellipse cx="721.2" cy="660.4" rx="1.5" ry="2.8" fill="url(#bg)"/>
<ellipse cx="793.0" cy="700.6" rx="1.0" ry="1.9" fill="url(#bg)"/>
<ellipse cx="638.7" cy="682.0" rx="1.8" ry="3.3" fill="url(#bg)"/>
<ellipse cx="701.6" cy="704.9" rx="1.2" ry="2.4" fill="url(#bg)"/>
<ellipse cx="705.2" cy="680.8" rx="1.5" ry="2.8" fill="url(#bg)"/>
<ellipse cx="651.4" cy="697.7" rx="1.5" ry="2.8" fill="url(#bg)"/>
<ellipse cx="688.8" cy="804.6" rx="2.0" ry="3.8" fill="url(#bg)"/>
<ellipse cx="668.2" cy="778.6" rx="2.0" ry="3.8" fill="url(#bg)"/>
<ellipse cx="674.1" cy="669.9" rx="1.0" ry="1.9" fill="url(#bg)"/>
<ellipse cx="776.5" cy="710.5" rx="1.0" ry="1.9" fill="url(#bg)"/>
<ellipse cx="646.2" cy="735.9" rx="1.5" ry="2.8" fill="url(#bg)"/>
<ellipse cx="692.0" cy="704.6" rx="1.0" ry="1.9" fill="url(#bg)"/>
<ellipse cx="614.8" cy="734.9" rx="0.8" ry="1.5" fill="url(#bg)"/>
<ellipse cx="641.8" cy="691.9" rx="0.8" ry="1.5" fill="url(#bg)"/>
<ellipse cx="644.3" cy="766.4" rx="1.0" ry="1.9" fill="url(#bg)"/>
<ellipse cx="646.9" cy="763.7" rx="0.8" ry="1.5" fill="url(#bg)"/>
<ellipse cx="656.6" cy="681.4" rx="1.2" ry="2.4" fill="url(#bg)"/>
<ellipse cx="678.0" cy="740.2" rx="1.0" ry="1.9" fill="url(#bg)"/>
<ellipse cx="697.3" cy="684.8" rx="1.8" ry="3.3" fill="url(#bg)"/>
<ellipse cx="655.5" cy="671.1" rx="1.0" ry="1.9" fill="url(#bg)"/>
<ellipse cx="598.6" cy="723.3" rx="1.8" ry="3.3" fill="url(#bg)"/>
<ellipse cx="712.2" cy="705.5" rx="0.8" ry="1.5" fill="url(#bg)"/>
<ellipse cx="638.2" cy="672.9" rx="2.0" ry="3.8" fill="url(#bg)"/>
<ellipse cx="746.4" cy="740.4" rx="0.8" ry="1.5" fill="url(#bg)"/>
<ellipse cx="676.4" cy="684.9" rx="1.8" ry="3.3" fill="url(#bg)"/>
<ellipse cx="770.8" cy="746.0" rx="1.0" ry="1.9" fill="url(#bg)"/>
<ellipse cx="633.7" cy="758.0" rx="1.2" ry="2.4" fill="url(#bg)"/>
<ellipse cx="747.9" cy="661.0" rx="1.0" ry="1.9" fill="url(#bg)"/>
<ellipse cx="655.1" cy="669.3" rx="0.8" ry="1.5" fill="url(#bg)"/>
<ellipse cx="626.6" cy="736.2" rx="1.0" ry="1.9" fill="url(#bg)"/>
<ellipse cx="724.8" cy="663.6" rx="1.5" ry="2.8" fill="url(#bg)"/>
<ellipse cx="688.9" cy="705.3" rx="1.2" ry="2.4" fill="url(#bg)"/>
<ellipse cx="655.2" cy="665.3" rx="0.8" ry="1.5" fill="url(#bg)"/>
<ellipse cx="605.7" cy="692.9" rx="1.2" ry="2.4" fill="url(#bg)"/>
<ellipse cx="658.4" cy="667.6" rx="0.8" ry="1.5" fill="url(#bg)"/>
<ellipse cx="603.4" cy="716.1" rx="1.5" ry="2.8" fill="url(#bg)"/>
<ellipse cx="675.6" cy="788.3" rx="1.8" ry="3.3" fill="url(#bg)"/>
<ellipse cx="719.5" cy="671.4" rx="1.0" ry="1.9" fill="url(#bg)"/>
<ellipse cx="781.3" cy="699.8" rx="1.5" ry="2.8" fill="url(#bg)"/>
<ellipse cx="758.4" cy="749.6" rx="1.0" ry="1.9" fill="url(#bg)"/>
<ellipse cx="706.6" cy="735.6" rx="1.5" ry="2.8" fill="url(#bg)"/>
<ellipse cx="744.8" cy="751.6" rx="0.8" ry="1.5" fill="url(#bg)"/>
<ellipse cx="653.6" cy="666.1" rx="2.0" ry="3.8" fill="url(#bg)"/>
<ellipse cx="751.8" cy="701.9" rx="1.0" ry="1.9" fill="url(#bg)"/>
<ellipse cx="701.8" cy="765.2" rx="0.8" ry="1.5" fill="url(#bg)"/>
<ellipse cx="652.6" cy="675.7" rx="1.0" ry="1.9" fill="url(#bg)"/>
<ellipse cx="715.1" cy="691.9" rx="1.5" ry="2.8" fill="url(#bg)"/>
<ellipse cx="606.5" cy="689.7" rx="2.0" ry="3.8" fill="url(#bg)"/>
<ellipse cx="616.4" cy="737.1" rx="1.0" ry="1.9" fill="url(#bg)"/>
<ellipse cx="595.8" cy="725.4" rx="2.0" ry="3.8" fill="url(#bg)"/>
<ellipse cx="657.9" cy="683.0" rx="2.0" ry="3.8" fill="url(#bg)"/>
<ellipse cx="686.4" cy="719.8" rx="1.2" ry="2.4" fill="url(#bg)"/>
<ellipse cx="689.6" cy="741.7" rx="1.5" ry="2.8" fill="url(#bg)"/>
<ellipse cx="690.0" cy="683.8" rx="1.5" ry="2.8" fill="url(#bg)"/>
<ellipse cx="604.4" cy="711.0" rx="1.0" ry="1.9" fill="url(#bg)"/>
<ellipse cx="585.6" cy="712.5" rx="1.5" ry="2.8" fill="url(#bg)"/>
<ellipse cx="741.6" cy="731.6" rx="1.0" ry="1.9" fill="url(#bg)"/>
<ellipse cx="621.1" cy="698.8" rx="1.8" ry="3.3" fill="url(#bg)"/>
<ellipse cx="662.9" cy="676.1" rx="0.8" ry="1.5" fill="url(#bg)"/>
<ellipse cx="753.7" cy="767.1" rx="1.5" ry="2.8" fill="url(#bg)"/>
<ellipse cx="702.9" cy="817.0" rx="1.0" ry="1.9" fill="url(#bg)"/>
<ellipse cx="692.8" cy="667.6" rx="1.0" ry="1.9" fill="url(#bg)"/>
<ellipse cx="588.0" cy="717.3" rx="1.8" ry="3.3" fill="url(#bg)"/>
<ellipse cx="678.2" cy="666.3" rx="1.8" ry="3.3" fill="url(#bg)"/>
<ellipse cx="595.6" cy="705.3" rx="1.0" ry="1.9" fill="url(#bg)"/>
<ellipse cx="670.9" cy="720.8" rx="1.5" ry="2.8" fill="url(#bg)"/>
<ellipse cx="633.3" cy="733.0" rx="1.5" ry="2.8" fill="url(#bg)"/>
<ellipse cx="643.2" cy="754.7" rx="1.5" ry="2.8" fill="url(#bg)"/>
<ellipse cx="644.5" cy="719.5" rx="2.0" ry="3.8" fill="url(#bg)"/>
<ellipse cx="720.4" cy="725.4" rx="1.0" ry="1.9" fill="url(#bg)"/>
<ellipse cx="676.1" cy="732.5" rx="2.0" ry="3.8" fill="url(#bg)"/>
<ellipse cx="642.3" cy="687.9" rx="1.5" ry="2.8" fill="url(#bg)"/>
<ellipse cx="722.7" cy="743.9" rx="1.2" ry="2.4" fill="url(#bg)"/>
<ellipse cx="721.9" cy="731.8" rx="1.5" ry="2.8" fill="url(#bg)"/>
<ellipse cx="600.8" cy="725.1" rx="1.5" ry="2.8" fill="url(#bg)"/>
<ellipse cx="650.4" cy="744.4" rx="1.5" ry="2.8" fill="url(#bg)"/>
<ellipse cx="593.4" cy="716.4" rx="5.4" ry="8.4" fill="url(#bg)"/>
<ellipse cx="607.6" cy="714.0" rx="3.1" ry="6.3" fill="url(#bg)"/>
<ellipse cx="619.4" cy="727.0" rx="3.6" ry="6.8" fill="url(#bg)"/>
<ellipse cx="623.0" cy="736.5" rx="2.7" ry="5.2" fill="url(#bg)"/>
<ellipse cx="620.6" cy="747.2" rx="3.6" ry="5.2" fill="url(#bg)"/>
<ellipse cx="607.6" cy="742.5" rx="2.2" ry="4.2" fill="url(#bg)"/>
<ellipse cx="650.3" cy="705.7" rx="3.6" ry="7.4" fill="url(#bg)"/>
<ellipse cx="669.3" cy="705.7" rx="2.7" ry="7.4" fill="url(#bg)"/>
<ellipse cx="674.0" cy="711.6" rx="2.7" ry="6.3" fill="url(#bg)"/>
<ellipse cx="645.5" cy="729.4" rx="3.6" ry="5.8" fill="url(#bg)"/>
<ellipse cx="651.5" cy="740.0" rx="3.1" ry="5.2" fill="url(#bg)"/>
<ellipse cx="640.8" cy="761.5" rx="3.1" ry="5.2" fill="url(#bg)"/>
<ellipse cx="656.2" cy="766.2" rx="4.0" ry="5.2" fill="url(#bg)"/>
<ellipse cx="669.3" cy="774.5" rx="4.0" ry="5.8" fill="url(#bg)"/>
<ellipse cx="696.6" cy="768.6" rx="3.1" ry="5.2" fill="url(#bg)"/>
<ellipse cx="715.5" cy="771.0" rx="3.6" ry="5.2" fill="url(#bg)"/>
<ellipse cx="742.8" cy="674.9" rx="5.4" ry="5.8" fill="url(#bg)"/>
<ellipse cx="706.0" cy="669.0" rx="2.7" ry="4.7" fill="url(#bg)"/>
<ellipse cx="696.6" cy="661.8" rx="1.8" ry="4.2" fill="url(#bg)"/>
<ellipse cx="682.3" cy="672.5" rx="2.7" ry="4.7" fill="url(#bg)"/>
<ellipse cx="702.5" cy="693.8" rx="2.2" ry="4.2" fill="url(#bg)"/>
<ellipse cx="710.8" cy="710.5" rx="2.2" ry="4.7" fill="url(#bg)"/>
<ellipse cx="704.9" cy="718.8" rx="2.2" ry="4.7" fill="url(#bg)"/>
<ellipse cx="689.4" cy="703.3" rx="2.2" ry="3.7" fill="url(#bg)"/>
<ellipse cx="747.6" cy="728.3" rx="3.1" ry="6.3" fill="url(#bg)"/>
<ellipse cx="750.0" cy="703.3" rx="2.2" ry="4.2" fill="url(#bg)"/>
<ellipse cx="763.0" cy="701.7" rx="2.2" ry="3.2" fill="url(#bg)"/>
<ellipse cx="671.6" cy="752.0" rx="2.7" ry="5.2" fill="url(#bg)"/>
<ellipse cx="695.4" cy="740.0" rx="2.2" ry="4.2" fill="url(#bg)"/>
<ellipse cx="722.6" cy="723.5" rx="2.2" ry="4.2" fill="url(#bg)"/>
<ellipse cx="665.7" cy="692.7" rx="2.7" ry="4.2" fill="url(#bg)"/>
<polygon points="963.8,629.3 1091.3,702.0 968.6,828.2 838.8,705.5" fill="none" stroke="#8C8C8C" stroke-width="0.8"/>
<polygon points="963.8,635.8 1091.3,708.5 968.6,834.7 838.8,712.0" fill="none" stroke="#8C8C8C" stroke-width="0.8"/>
<line x1="963.8" y1="635.8" x2="963.8" y2="629.3" stroke="#8C8C8C" stroke-width="0.8"/>
<line x1="963.8" y1="635.8" x2="963.8" y2="629.3" stroke="#8C8C8C" stroke-width="0.8"/>
<line x1="838.8" y1="712.0" x2="838.8" y2="705.5" stroke="#8C8C8C" stroke-width="0.8"/>
<line x1="1091.3" y1="708.5" x2="1091.3" y2="702.0" stroke="#8C8C8C" stroke-width="0.8"/>
<line x1="985.0" y1="647.9" x2="985.0" y2="641.4" stroke="#8C8C8C" stroke-width="0.8"/>
<line x1="943.0" y1="648.5" x2="943.0" y2="642.0" stroke="#8C8C8C" stroke-width="0.8"/>
<line x1="860.4" y1="732.5" x2="860.4" y2="726.0" stroke="#8C8C8C" stroke-width="0.8"/>
<line x1="1070.8" y1="729.5" x2="1070.8" y2="723.0" stroke="#8C8C8C" stroke-width="0.8"/>
<line x1="1006.3" y1="660.0" x2="1006.3" y2="653.5" stroke="#8C8C8C" stroke-width="0.8"/>
<line x1="922.1" y1="661.2" x2="922.1" y2="654.7" stroke="#8C8C8C" stroke-width="0.8"/>
<line x1="882.1" y1="752.9" x2="882.1" y2="746.4" stroke="#8C8C8C" stroke-width="0.8"/>
<line x1="1050.4" y1="750.6" x2="1050.4" y2="744.1" stroke="#8C8C8C" stroke-width="0.8"/>
<line x1="1027.5" y1="672.1" x2="1027.5" y2="665.6" stroke="#8C8C8C" stroke-width="0.8"/>
<line x1="901.3" y1="673.9" x2="901.3" y2="667.4" stroke="#8C8C8C" stroke-width="0.8"/>
<line x1="903.7" y1="773.4" x2="903.7" y2="766.9" stroke="#8C8C8C" stroke-width="0.8"/>
<line x1="1030.0" y1="771.6" x2="1030.0" y2="765.1" stroke="#8C8C8C" stroke-width="0.8"/>
<line x1="1048.8" y1="684.3" x2="1048.8" y2="677.8" stroke="#8C8C8C" stroke-width="0.8"/>
<line x1="880.5" y1="686.6" x2="880.5" y2="680.1" stroke="#8C8C8C" stroke-width="0.8"/>
<line x1="925.3" y1="793.8" x2="925.3" y2="787.3" stroke="#8C8C8C" stroke-width="0.8"/>
<line x1="1009.5" y1="792.6" x2="1009.5" y2="786.1" stroke="#8C8C8C" stroke-width="0.8"/>
<line x1="1070.0" y1="696.4" x2="1070.0" y2="689.9" stroke="#8C8C8C" stroke-width="0.8"/>
<line x1="859.6" y1="699.3" x2="859.6" y2="692.8" stroke="#8C8C8C" stroke-width="0.8"/>
<line x1="947.0" y1="814.2" x2="947.0" y2="807.8" stroke="#8C8C8C" stroke-width="0.8"/>
<line x1="989.0" y1="813.7" x2="989.0" y2="807.2" stroke="#8C8C8C" stroke-width="0.8"/>
<line x1="1091.3" y1="708.5" x2="1091.3" y2="702.0" stroke="#8C8C8C" stroke-width="0.8"/>
<line x1="838.8" y1="712.0" x2="838.8" y2="705.5" stroke="#8C8C8C" stroke-width="0.8"/>
<line x1="968.6" y1="834.7" x2="968.6" y2="828.2" stroke="#8C8C8C" stroke-width="0.8"/>
<line x1="968.6" y1="834.7" x2="968.6" y2="828.2" stroke="#8C8C8C" stroke-width="0.8"/>
<line x1="985.0" y1="647.9" x2="860.4" y2="732.5" stroke="#8C8C8C" stroke-width="0.8"/>
<line x1="943.0" y1="648.5" x2="1070.8" y2="729.5" stroke="#8C8C8C" stroke-width="0.8"/>
<line x1="1006.3" y1="660.0" x2="882.1" y2="752.9" stroke="#8C8C8C" stroke-width="0.8"/>
<line x1="922.1" y1="661.2" x2="1050.4" y2="750.6" stroke="#8C8C8C" stroke-width="0.8"/>
<line x1="1027.5" y1="672.1" x2="903.7" y2="773.4" stroke="#8C8C8C" stroke-width="0.8"/>
<line x1="901.3" y1="673.9" x2="1030.0" y2="771.6" stroke="#8C8C8C" stroke-width="0.8"/>
<line x1="1048.8" y1="684.3" x2="925.3" y2="793.8" stroke="#8C8C8C" stroke-width="0.8"/>
<line x1="880.5" y1="686.6" x2="1009.5" y2="792.6" stroke="#8C8C8C" stroke-width="0.8"/>
<line x1="1070.0" y1="696.4" x2="947.0" y2="814.2" stroke="#8C8C8C" stroke-width="0.8"/>
<line x1="859.6" y1="699.3" x2="989.0" y2="813.7" stroke="#8C8C8C" stroke-width="0.8"/>
<rect x="830" y="610" width="270" height="230" fill="#fff" filter="url(#t4)" clip-path="url(#c4)"/>
<rect x="271" y="824.5" width="29.19999999999999" height="3.6" rx="1.6" fill="#fff"/>
<rect x="533" y="824.5" width="29" height="3.6" rx="1.6" fill="#fff"/>
<rect x="795" y="824.5" width="30" height="3.6" rx="1.6" fill="#fff"/>
<rect x="1057" y="824.5" width="29" height="3.6" rx="1.6" fill="#fff"/>
<text x="179.0" y="864.5" font-size="28" text-anchor="middle" font-weight="bold" fill="#000" >None</text>
<text x="441.3" y="864.5" font-size="28" text-anchor="middle" font-weight="bold" fill="#000" >Herring oil</text>
<text x="701.3" y="864.5" font-size="28" text-anchor="middle" font-weight="bold" fill="#000" >DHA</text>
<text x="968.9" y="864.5" font-size="28" text-anchor="middle" font-weight="bold" fill="#000" >EPA</text>
<text x="3.2" y="891.8" font-size="21.5" text-anchor="start" font-weight="bold" fill="#000" >C</text>
<line x1="95.0" y1="920.5" x2="95.0" y2="1133.6" stroke="#000" stroke-width="2.5"/>
<line x1="93.8" y1="1132.4" x2="366.0" y2="1132.4" stroke="#000" stroke-width="2.5"/>
<line x1="89.5" y1="1132.4" x2="95.0" y2="1132.4" stroke="#000" stroke-width="2.2"/>
<text x="82.5" y="1137.9" font-size="15.5" text-anchor="end" font-weight="bold" fill="#000" >0</text>
<line x1="89.5" y1="1097.1" x2="95.0" y2="1097.1" stroke="#000" stroke-width="2.2"/>
<text x="82.5" y="1102.6" font-size="15.5" text-anchor="end" font-weight="bold" fill="#000" >10</text>
<line x1="89.5" y1="1061.8" x2="95.0" y2="1061.8" stroke="#000" stroke-width="2.2"/>
<text x="82.5" y="1067.3" font-size="15.5" text-anchor="end" font-weight="bold" fill="#000" >20</text>
<line x1="89.5" y1="1026.5" x2="95.0" y2="1026.5" stroke="#000" stroke-width="2.2"/>
<text x="82.5" y="1032.0" font-size="15.5" text-anchor="end" font-weight="bold" fill="#000" >30</text>
<line x1="89.5" y1="991.1" x2="95.0" y2="991.1" stroke="#000" stroke-width="2.2"/>
<text x="82.5" y="996.6" font-size="15.5" text-anchor="end" font-weight="bold" fill="#000" >40</text>
<line x1="89.5" y1="955.8" x2="95.0" y2="955.8" stroke="#000" stroke-width="2.2"/>
<text x="82.5" y="961.3" font-size="15.5" text-anchor="end" font-weight="bold" fill="#000" >50</text>
<line x1="89.5" y1="920.5" x2="95.0" y2="920.5" stroke="#000" stroke-width="2.2"/>
<text x="82.5" y="926.0" font-size="15.5" text-anchor="end" font-weight="bold" fill="#000" >60</text>
<line x1="138.1" y1="952.3" x2="138.1" y2="961.5" stroke="#000" stroke-width="2.2"/>
<line x1="132.5" y1="952.3" x2="143.7" y2="952.3" stroke="#000" stroke-width="2.2"/>
<rect x="116.2" y="961.5" width="43.7" height="170.9" fill="#fff" stroke="#000" stroke-width="2.2"/>
<line x1="200.4" y1="1097.1" x2="200.4" y2="1105.9" stroke="#000" stroke-width="2.2"/>
<line x1="194.8" y1="1097.1" x2="206.0" y2="1097.1" stroke="#000" stroke-width="2.2"/>
<rect x="178.7" y="1105.9" width="43.5" height="26.5" fill="#C4C4C4" stroke="#000" stroke-width="2.2"/>
<line x1="262.1" y1="1123.2" x2="262.1" y2="1124.6" stroke="#000" stroke-width="2.2"/>
<line x1="256.5" y1="1123.2" x2="267.7" y2="1123.2" stroke="#000" stroke-width="2.2"/>
<rect x="240.2" y="1124.6" width="43.8" height="7.8" fill="#848484" stroke="#000" stroke-width="2.2"/>
<line x1="324.1" y1="1116.9" x2="324.1" y2="1120.0" stroke="#000" stroke-width="2.2"/>
<line x1="318.5" y1="1116.9" x2="329.7" y2="1116.9" stroke="#000" stroke-width="2.2"/>
<rect x="302.2" y="1120.0" width="43.8" height="12.4" fill="#2E2E2E" stroke="#000" stroke-width="2.2"/>
<rect x="241.6" y="909.0" width="38.5" height="9.8" fill="#fff" stroke="#000" stroke-width="2.2"/>
<text x="288.9" y="920.1" font-size="16.8" text-anchor="start" font-weight="bold" fill="#000" >None</text>
<rect x="241.6" y="930.1" width="38.5" height="9.8" fill="#C4C4C4" stroke="#000" stroke-width="2.2"/>
<text x="288.9" y="941.2" font-size="16.8" text-anchor="start" font-weight="bold" fill="#000" >Herring oil</text>
<rect x="241.6" y="951.5" width="38.5" height="9.8" fill="#848484" stroke="#000" stroke-width="2.2"/>
<text x="288.9" y="962.6" font-size="16.8" text-anchor="start" font-weight="bold" fill="#000" >DHA</text>
<rect x="241.6" y="973.2" width="38.5" height="9.8" fill="#2E2E2E" stroke="#000" stroke-width="2.2"/>
<text x="288.9" y="984.3" font-size="16.8" text-anchor="start" font-weight="bold" fill="#000" >EPA</text>
<text transform="translate(51,1026) rotate(-90)" font-size="22.2" font-weight="bold" text-anchor="middle">Biovolume (<tspan font-weight="normal">μ</tspan>m<tspan dy="-9" font-size="14">3</tspan><tspan dy="9"> </tspan><tspan font-weight="normal">μ</tspan>m<tspan dy="-9" font-size="14">-2</tspan><tspan dy="9">)</tspan></text>
<line x1="447.4" y1="921.0" x2="447.4" y2="1134.2" stroke="#000" stroke-width="2.5"/>
<line x1="446.2" y1="1133.0" x2="721.5" y2="1133.0" stroke="#000" stroke-width="2.5"/>
<line x1="441.9" y1="1133.0" x2="447.4" y2="1133.0" stroke="#000" stroke-width="2.2"/>
<text x="434.9" y="1138.5" font-size="15.5" text-anchor="end" font-weight="bold" fill="#000" >0</text>
<line x1="441.9" y1="1097.7" x2="447.4" y2="1097.7" stroke="#000" stroke-width="2.2"/>
<text x="434.9" y="1103.2" font-size="15.5" text-anchor="end" font-weight="bold" fill="#000" >10</text>
<line x1="441.9" y1="1062.3" x2="447.4" y2="1062.3" stroke="#000" stroke-width="2.2"/>
<text x="434.9" y="1067.8" font-size="15.5" text-anchor="end" font-weight="bold" fill="#000" >20</text>
<line x1="441.9" y1="1027.0" x2="447.4" y2="1027.0" stroke="#000" stroke-width="2.2"/>
<text x="434.9" y="1032.5" font-size="15.5" text-anchor="end" font-weight="bold" fill="#000" >30</text>
<line x1="441.9" y1="991.7" x2="447.4" y2="991.7" stroke="#000" stroke-width="2.2"/>
<text x="434.9" y="997.2" font-size="15.5" text-anchor="end" font-weight="bold" fill="#000" >40</text>
<line x1="441.9" y1="956.3" x2="447.4" y2="956.3" stroke="#000" stroke-width="2.2"/>
<text x="434.9" y="961.8" font-size="15.5" text-anchor="end" font-weight="bold" fill="#000" >50</text>
<line x1="441.9" y1="921.0" x2="447.4" y2="921.0" stroke="#000" stroke-width="2.2"/>
<text x="434.9" y="926.5" font-size="15.5" text-anchor="end" font-weight="bold" fill="#000" >60</text>
<line x1="490.8" y1="958.5" x2="490.8" y2="966.9" stroke="#000" stroke-width="2.2"/>
<line x1="485.2" y1="958.5" x2="496.4" y2="958.5" stroke="#000" stroke-width="2.2"/>
<rect x="468.6" y="966.9" width="44.4" height="166.1" fill="#fff" stroke="#000" stroke-width="2.2"/>
<line x1="552.6" y1="1092.7" x2="552.6" y2="1104.7" stroke="#000" stroke-width="2.2"/>
<line x1="547.0" y1="1092.7" x2="558.2" y2="1092.7" stroke="#000" stroke-width="2.2"/>
<rect x="530.8" y="1104.7" width="43.7" height="28.3" fill="#C4C4C4" stroke="#000" stroke-width="2.2"/>
<line x1="614.9" y1="1122.8" x2="614.9" y2="1124.5" stroke="#000" stroke-width="2.2"/>
<line x1="609.2" y1="1122.8" x2="620.5" y2="1122.8" stroke="#000" stroke-width="2.2"/>
<rect x="593.0" y="1124.5" width="43.7" height="8.5" fill="#848484" stroke="#000" stroke-width="2.2"/>
<line x1="677.0" y1="1117.1" x2="677.0" y2="1119.9" stroke="#000" stroke-width="2.2"/>
<line x1="671.4" y1="1117.1" x2="682.6" y2="1117.1" stroke="#000" stroke-width="2.2"/>
<rect x="654.9" y="1119.9" width="44.1" height="13.1" fill="#2E2E2E" stroke="#000" stroke-width="2.2"/>
<rect x="589.4" y="908.7" width="38.5" height="9.8" fill="#fff" stroke="#000" stroke-width="2.2"/>
<text x="636.2" y="919.8" font-size="16.8" text-anchor="start" font-weight="bold" fill="#000" >None</text>
<rect x="589.4" y="929.9" width="38.5" height="9.8" fill="#C4C4C4" stroke="#000" stroke-width="2.2"/>
<text x="636.2" y="941.0" font-size="16.8" text-anchor="start" font-weight="bold" fill="#000" >Herring oil</text>
<rect x="589.4" y="951.5" width="38.5" height="9.8" fill="#848484" stroke="#000" stroke-width="2.2"/>
<text x="636.2" y="962.6" font-size="16.8" text-anchor="start" font-weight="bold" fill="#000" >DHA</text>
<rect x="589.4" y="972.6" width="38.5" height="9.8" fill="#2E2E2E" stroke="#000" stroke-width="2.2"/>
<text x="636.2" y="983.7" font-size="16.8" text-anchor="start" font-weight="bold" fill="#000" >EPA</text>
<text transform="translate(403.6,1027) rotate(-90)" font-size="22.2" font-weight="bold" text-anchor="middle">Mean thickness (<tspan font-weight="normal">μ</tspan>m)</text>
<line x1="809.0" y1="922.0" x2="809.0" y2="1133.5" stroke="#000" stroke-width="2.5"/>
<line x1="807.8" y1="1132.3" x2="1083.0" y2="1132.3" stroke="#000" stroke-width="2.5"/>
<line x1="803.5" y1="1132.3" x2="809.0" y2="1132.3" stroke="#000" stroke-width="2.2"/>
<text x="796.5" y="1137.8" font-size="15.5" text-anchor="end" font-weight="bold" fill="#000" >0</text>
<line x1="803.5" y1="1097.2" x2="809.0" y2="1097.2" stroke="#000" stroke-width="2.2"/>
<text x="796.5" y="1102.8" font-size="15.5" text-anchor="end" font-weight="bold" fill="#000" >20</text>
<line x1="803.5" y1="1062.2" x2="809.0" y2="1062.2" stroke="#000" stroke-width="2.2"/>
<text x="796.5" y="1067.7" font-size="15.5" text-anchor="end" font-weight="bold" fill="#000" >40</text>
<line x1="803.5" y1="1027.2" x2="809.0" y2="1027.2" stroke="#000" stroke-width="2.2"/>
<text x="796.5" y="1032.7" font-size="15.5" text-anchor="end" font-weight="bold" fill="#000" >60</text>
<line x1="803.5" y1="992.1" x2="809.0" y2="992.1" stroke="#000" stroke-width="2.2"/>
<text x="796.5" y="997.6" font-size="15.5" text-anchor="end" font-weight="bold" fill="#000" >80</text>
<line x1="803.5" y1="957.0" x2="809.0" y2="957.0" stroke="#000" stroke-width="2.2"/>
<text x="796.5" y="962.5" font-size="15.5" text-anchor="end" font-weight="bold" fill="#000" >100</text>
<line x1="803.5" y1="922.0" x2="809.0" y2="922.0" stroke="#000" stroke-width="2.2"/>
<text x="796.5" y="927.5" font-size="15.5" text-anchor="end" font-weight="bold" fill="#000" >120</text>
<line x1="853.1" y1="956.2" x2="853.1" y2="957.0" stroke="#000" stroke-width="2.2"/>
<line x1="847.5" y1="956.2" x2="858.8" y2="956.2" stroke="#000" stroke-width="2.2"/>
<rect x="831.0" y="957.0" width="44.3" height="175.2" fill="#fff" stroke="#000" stroke-width="2.2"/>
<line x1="915.0" y1="1048.9" x2="915.0" y2="1066.9" stroke="#000" stroke-width="2.2"/>
<line x1="909.4" y1="1048.9" x2="920.6" y2="1048.9" stroke="#000" stroke-width="2.2"/>
<rect x="893.0" y="1066.9" width="44.0" height="65.4" fill="#C4C4C4" stroke="#000" stroke-width="2.2"/>
<line x1="977.2" y1="1119.9" x2="977.2" y2="1121.3" stroke="#000" stroke-width="2.2"/>
<line x1="971.6" y1="1119.9" x2="982.8" y2="1119.9" stroke="#000" stroke-width="2.2"/>
<rect x="955.4" y="1121.3" width="43.6" height="11.0" fill="#848484" stroke="#000" stroke-width="2.2"/>
<line x1="1039.2" y1="1082.9" x2="1039.2" y2="1095.5" stroke="#000" stroke-width="2.2"/>
<line x1="1033.6" y1="1082.9" x2="1044.8" y2="1082.9" stroke="#000" stroke-width="2.2"/>
<rect x="1017.0" y="1095.5" width="44.3" height="36.8" fill="#2E2E2E" stroke="#000" stroke-width="2.2"/>
<rect x="955.5" y="907.1" width="38.5" height="9.8" fill="#fff" stroke="#000" stroke-width="2.2"/>
<text x="1002.3" y="918.2" font-size="16.8" text-anchor="start" font-weight="bold" fill="#000" >None</text>
<rect x="955.5" y="928.2" width="38.5" height="9.8" fill="#C4C4C4" stroke="#000" stroke-width="2.2"/>
<text x="1002.3" y="939.3" font-size="16.8" text-anchor="start" font-weight="bold" fill="#000" >Herring oil</text>
<rect x="955.5" y="949.8" width="38.5" height="9.8" fill="#848484" stroke="#000" stroke-width="2.2"/>
<text x="1002.3" y="960.9" font-size="16.8" text-anchor="start" font-weight="bold" fill="#000" >DHA</text>
<rect x="955.5" y="971.0" width="38.5" height="9.8" fill="#2E2E2E" stroke="#000" stroke-width="2.2"/>
<text x="1002.3" y="982.1" font-size="16.8" text-anchor="start" font-weight="bold" fill="#000" >EPA</text>
<text transform="translate(760,1018) rotate(-90)" font-size="22.2" font-weight="bold" text-anchor="middle">Substratum coverage (%)</text>
<text x="4.4" y="1203.2" font-size="23" text-anchor="start" font-weight="bold" fill="#000" >D</text>
<line x1="92.0" y1="1209.0" x2="92.0" y2="1567.2" stroke="#000" stroke-width="2.5"/>
<line x1="90.8" y1="1566.0" x2="519.5" y2="1566.0" stroke="#000" stroke-width="2.5"/>
<line x1="86.0" y1="1566.0" x2="92.0" y2="1566.0" stroke="#000" stroke-width="2.2"/>
<text x="74.0" y="1574.9" font-size="24.8" text-anchor="end" font-weight="bold" fill="#000" >0</text>
<line x1="86.0" y1="1486.8" x2="92.0" y2="1486.8" stroke="#000" stroke-width="2.2"/>
<text x="74.0" y="1495.7" font-size="24.8" text-anchor="end" font-weight="bold" fill="#000" >2</text>
<line x1="86.0" y1="1407.6" x2="92.0" y2="1407.6" stroke="#000" stroke-width="2.2"/>
<text x="74.0" y="1416.5" font-size="24.8" text-anchor="end" font-weight="bold" fill="#000" >4</text>
<line x1="86.0" y1="1328.4" x2="92.0" y2="1328.4" stroke="#000" stroke-width="2.2"/>
<text x="74.0" y="1337.3" font-size="24.8" text-anchor="end" font-weight="bold" fill="#000" >6</text>
<line x1="86.0" y1="1249.2" x2="92.0" y2="1249.2" stroke="#000" stroke-width="2.2"/>
<text x="74.0" y="1258.1" font-size="24.8" text-anchor="end" font-weight="bold" fill="#000" >8</text>
<line x1="92.0" y1="1566.0" x2="92.0" y2="1572.5" stroke="#000" stroke-width="2.2"/>
<text x="92.0" y="1606.2" font-size="24" text-anchor="middle" font-weight="bold" fill="#000" >0</text>
<line x1="163.0" y1="1566.0" x2="163.0" y2="1572.5" stroke="#000" stroke-width="2.2"/>
<text x="163.0" y="1606.2" font-size="24" text-anchor="middle" font-weight="bold" fill="#000" >4</text>
<line x1="234.0" y1="1566.0" x2="234.0" y2="1572.5" stroke="#000" stroke-width="2.2"/>
<text x="234.0" y="1606.2" font-size="24" text-anchor="middle" font-weight="bold" fill="#000" >8</text>
<line x1="305.0" y1="1566.0" x2="305.0" y2="1572.5" stroke="#000" stroke-width="2.2"/>
<text x="305.0" y="1606.2" font-size="24" text-anchor="middle" font-weight="bold" fill="#000" >12</text>
<line x1="376.0" y1="1566.0" x2="376.0" y2="1572.5" stroke="#000" stroke-width="2.2"/>
<text x="376.0" y="1606.2" font-size="24" text-anchor="middle" font-weight="bold" fill="#000" >16</text>
<line x1="447.0" y1="1566.0" x2="447.0" y2="1572.5" stroke="#000" stroke-width="2.2"/>
<text x="447.0" y="1606.2" font-size="24" text-anchor="middle" font-weight="bold" fill="#000" >20</text>
<line x1="518.0" y1="1566.0" x2="518.0" y2="1572.5" stroke="#000" stroke-width="2.2"/>
<text x="518.0" y="1606.2" font-size="24" text-anchor="middle" font-weight="bold" fill="#000" >24</text>
<text x="305.0" y="1641.5" font-size="21.5" text-anchor="middle" font-weight="bold" fill="#000" >Time (h)</text>
<text transform="translate(47.8,1389) rotate(-90)" font-size="21" font-weight="bold" text-anchor="middle">Cell growth (OD<tspan font-size="13">600</tspan>)</text>
<polyline points="92.0,1564.0 127.5,1556.1 163.0,1523.2 198.5,1473.7 234.0,1395.3 269.5,1317.3 305.0,1299.9 518.0,1305.0" fill="none" stroke="#000" stroke-width="2.2"/>
<polyline points="92.0,1564.0 127.5,1560.1 163.0,1537.9 198.5,1493.5 234.0,1430.2 269.5,1351.4 305.0,1318.9 518.0,1324.4" fill="none" stroke="#000" stroke-width="2.2"/>
<polyline points="92.0,1566.0 127.5,1562.0 163.0,1532.7 198.5,1498.7 234.0,1456.7 269.5,1388.2 305.0,1344.2 518.0,1349.8" fill="none" stroke="#000" stroke-width="2.2"/>
<polyline points="92.0,1561.2 127.5,1560.5 163.0,1559.7 198.5,1558.9 234.0,1557.7 269.5,1550.2 305.0,1531.9 518.0,1505.4" fill="none" stroke="#000" stroke-width="2.2"/>
<line x1="518.0" y1="1490.0" x2="518.0" y2="1520.1" stroke="#000" stroke-width="2.2"/>
<line x1="512.0" y1="1490.0" x2="524.0" y2="1490.0" stroke="#000" stroke-width="2.2"/>
<line x1="512.0" y1="1520.1" x2="524.0" y2="1520.1" stroke="#000" stroke-width="2.2"/>
<line x1="234.0" y1="1419.9" x2="234.0" y2="1441.3" stroke="#000" stroke-width="2.2"/>
<line x1="228.0" y1="1419.9" x2="240.0" y2="1419.9" stroke="#000" stroke-width="2.2"/>
<line x1="228.0" y1="1441.3" x2="240.0" y2="1441.3" stroke="#000" stroke-width="2.2"/>
<line x1="518.0" y1="1293.6" x2="518.0" y2="1316.5" stroke="#000" stroke-width="2.2"/>
<line x1="512.0" y1="1293.6" x2="524.0" y2="1293.6" stroke="#000" stroke-width="2.2"/>
<line x1="512.0" y1="1316.5" x2="524.0" y2="1316.5" stroke="#000" stroke-width="2.2"/>
<circle cx="92.0" cy="1564.0" r="9.1" fill="#fff" stroke="#000" stroke-width="2.2"/>
<circle cx="127.5" cy="1556.1" r="9.1" fill="#fff" stroke="#000" stroke-width="2.2"/>
<circle cx="163.0" cy="1523.2" r="9.1" fill="#fff" stroke="#000" stroke-width="2.2"/>
<circle cx="198.5" cy="1473.7" r="9.1" fill="#fff" stroke="#000" stroke-width="2.2"/>
<circle cx="234.0" cy="1395.3" r="9.1" fill="#fff" stroke="#000" stroke-width="2.2"/>
<circle cx="269.5" cy="1317.3" r="9.1" fill="#fff" stroke="#000" stroke-width="2.2"/>
<circle cx="305.0" cy="1299.9" r="9.1" fill="#fff" stroke="#000" stroke-width="2.2"/>
<circle cx="518.0" cy="1305.0" r="9.1" fill="#fff" stroke="#000" stroke-width="2.2"/>
<circle cx="92.0" cy="1564.0" r="9.1" fill="#C8C0F2" stroke="#000" stroke-width="2.2"/>
<circle cx="127.5" cy="1560.1" r="9.1" fill="#C8C0F2" stroke="#000" stroke-width="2.2"/>
<circle cx="163.0" cy="1537.9" r="9.1" fill="#C8C0F2" stroke="#000" stroke-width="2.2"/>
<circle cx="198.5" cy="1493.5" r="9.1" fill="#C8C0F2" stroke="#000" stroke-width="2.2"/>
<circle cx="234.0" cy="1430.2" r="9.1" fill="#C8C0F2" stroke="#000" stroke-width="2.2"/>
<circle cx="269.5" cy="1351.4" r="9.1" fill="#C8C0F2" stroke="#000" stroke-width="2.2"/>
<circle cx="305.0" cy="1318.9" r="9.1" fill="#C8C0F2" stroke="#000" stroke-width="2.2"/>
<circle cx="518.0" cy="1324.4" r="9.1" fill="#C8C0F2" stroke="#000" stroke-width="2.2"/>
<path d="M82.2,1559.5 L101.8,1559.5 L92.0,1576.0 Z" fill="#6F63DC" stroke="#000" stroke-width="2.2" stroke-linejoin="miter"/>
<path d="M117.7,1555.5 L137.3,1555.5 L127.5,1572.0 Z" fill="#6F63DC" stroke="#000" stroke-width="2.2" stroke-linejoin="miter"/>
<path d="M153.2,1526.2 L172.8,1526.2 L163.0,1542.7 Z" fill="#6F63DC" stroke="#000" stroke-width="2.2" stroke-linejoin="miter"/>
<path d="M188.7,1492.2 L208.3,1492.2 L198.5,1508.7 Z" fill="#6F63DC" stroke="#000" stroke-width="2.2" stroke-linejoin="miter"/>
<path d="M224.2,1450.2 L243.8,1450.2 L234.0,1466.7 Z" fill="#6F63DC" stroke="#000" stroke-width="2.2" stroke-linejoin="miter"/>
<path d="M259.7,1381.7 L279.3,1381.7 L269.5,1398.2 Z" fill="#6F63DC" stroke="#000" stroke-width="2.2" stroke-linejoin="miter"/>
<path d="M295.2,1337.7 L314.8,1337.7 L305.0,1354.2 Z" fill="#6F63DC" stroke="#000" stroke-width="2.2" stroke-linejoin="miter"/>
<path d="M508.2,1343.3 L527.8,1343.3 L518.0,1359.8 Z" fill="#6F63DC" stroke="#000" stroke-width="2.2" stroke-linejoin="miter"/>
<rect x="84.0" y="1553.2" width="16" height="16" fill="#0000F8" stroke="#000" stroke-width="2.2"/>
<rect x="119.5" y="1552.5" width="16" height="16" fill="#0000F8" stroke="#000" stroke-width="2.2"/>
<rect x="155.0" y="1551.7" width="16" height="16" fill="#0000F8" stroke="#000" stroke-width="2.2"/>
<rect x="190.5" y="1550.9" width="16" height="16" fill="#0000F8" stroke="#000" stroke-width="2.2"/>
<rect x="226.0" y="1549.7" width="16" height="16" fill="#0000F8" stroke="#000" stroke-width="2.2"/>
<rect x="261.5" y="1542.2" width="16" height="16" fill="#0000F8" stroke="#000" stroke-width="2.2"/>
<rect x="297.0" y="1523.9" width="16" height="16" fill="#0000F8" stroke="#000" stroke-width="2.2"/>
<rect x="510.0" y="1497.4" width="16" height="16" fill="#0000F8" stroke="#000" stroke-width="2.2"/>
<line x1="122.2" y1="1183.2" x2="168.2" y2="1183.2" stroke="#000" stroke-width="2.2"/>
<circle cx="145.2" cy="1183.2" r="9.1" fill="#fff" stroke="#000" stroke-width="2.2"/>
<text x="178.0" y="1189.7" font-size="19.3" text-anchor="start" font-weight="bold" fill="#000" >None</text>
<line x1="122.2" y1="1207.9" x2="168.2" y2="1207.9" stroke="#000" stroke-width="2.2"/>
<circle cx="145.2" cy="1207.9" r="9.1" fill="#C8C0F2" stroke="#000" stroke-width="2.2"/>
<text x="178.0" y="1214.4" font-size="19.3" text-anchor="start" font-weight="bold" fill="#000" >DHA 5 <tspan font-weight="normal">μ</tspan>g/ml</text>
<line x1="122.2" y1="1233.3" x2="168.2" y2="1233.3" stroke="#000" stroke-width="2.2"/>
<path d="M135.4,1226.8 L155.0,1226.8 L145.2,1243.3 Z" fill="#6F63DC" stroke="#000" stroke-width="2.2" stroke-linejoin="miter"/>
<text x="178.0" y="1239.8" font-size="19.3" text-anchor="start" font-weight="bold" fill="#000" >DHA 20 <tspan font-weight="normal">μ</tspan>g/ml</text>
<line x1="122.2" y1="1258.0" x2="168.2" y2="1258.0" stroke="#000" stroke-width="2.2"/>
<rect x="137.2" y="1250.0" width="16" height="16" fill="#0000F8" stroke="#000" stroke-width="2.2"/>
<text x="178.0" y="1264.5" font-size="19.3" text-anchor="start" font-weight="bold" fill="#000" >DHA 50 <tspan font-weight="normal">μ</tspan>g/ml</text>
<text x="570.0" y="1203.5" font-size="23" text-anchor="start" font-weight="bold" fill="#000" >E</text>
<line x1="628.6" y1="1211.0" x2="628.6" y2="1568.7" stroke="#000" stroke-width="2.5"/>
<line x1="627.4" y1="1567.5" x2="1055.2" y2="1567.5" stroke="#000" stroke-width="2.5"/>
<line x1="622.6" y1="1567.5" x2="628.6" y2="1567.5" stroke="#000" stroke-width="2.2"/>
<text x="610.6" y="1576.4" font-size="24.8" text-anchor="end" font-weight="bold" fill="#000" >0</text>
<line x1="622.6" y1="1488.3" x2="628.6" y2="1488.3" stroke="#000" stroke-width="2.2"/>
<text x="610.6" y="1497.2" font-size="24.8" text-anchor="end" font-weight="bold" fill="#000" >2</text>
<line x1="622.6" y1="1409.1" x2="628.6" y2="1409.1" stroke="#000" stroke-width="2.2"/>
<text x="610.6" y="1418.0" font-size="24.8" text-anchor="end" font-weight="bold" fill="#000" >4</text>
<line x1="622.6" y1="1329.9" x2="628.6" y2="1329.9" stroke="#000" stroke-width="2.2"/>
<text x="610.6" y="1338.8" font-size="24.8" text-anchor="end" font-weight="bold" fill="#000" >6</text>
<line x1="622.6" y1="1250.7" x2="628.6" y2="1250.7" stroke="#000" stroke-width="2.2"/>
<text x="610.6" y="1259.6" font-size="24.8" text-anchor="end" font-weight="bold" fill="#000" >8</text>
<line x1="628.6" y1="1567.5" x2="628.6" y2="1574.0" stroke="#000" stroke-width="2.2"/>
<text x="628.6" y="1606.2" font-size="24" text-anchor="middle" font-weight="bold" fill="#000" >0</text>
<line x1="699.6" y1="1567.5" x2="699.6" y2="1574.0" stroke="#000" stroke-width="2.2"/>
<text x="699.6" y="1606.2" font-size="24" text-anchor="middle" font-weight="bold" fill="#000" >4</text>
<line x1="770.6" y1="1567.5" x2="770.6" y2="1574.0" stroke="#000" stroke-width="2.2"/>
<text x="770.6" y="1606.2" font-size="24" text-anchor="middle" font-weight="bold" fill="#000" >8</text>
<line x1="841.6" y1="1567.5" x2="841.6" y2="1574.0" stroke="#000" stroke-width="2.2"/>
<text x="841.6" y="1606.2" font-size="24" text-anchor="middle" font-weight="bold" fill="#000" >12</text>
<line x1="912.6" y1="1567.5" x2="912.6" y2="1574.0" stroke="#000" stroke-width="2.2"/>
<text x="912.6" y="1606.2" font-size="24" text-anchor="middle" font-weight="bold" fill="#000" >16</text>
<line x1="983.6" y1="1567.5" x2="983.6" y2="1574.0" stroke="#000" stroke-width="2.2"/>
<text x="983.6" y="1606.2" font-size="24" text-anchor="middle" font-weight="bold" fill="#000" >20</text>
<line x1="1054.6" y1="1567.5" x2="1054.6" y2="1574.0" stroke="#000" stroke-width="2.2"/>
<text x="1054.6" y="1606.2" font-size="24" text-anchor="middle" font-weight="bold" fill="#000" >24</text>
<text x="841.6" y="1641.5" font-size="21.5" text-anchor="middle" font-weight="bold" fill="#000" >Time (h)</text>
<text transform="translate(583.8,1389) rotate(-90)" font-size="21" font-weight="bold" text-anchor="middle">Cell growth (OD<tspan font-size="13">600</tspan>)</text>
<polyline points="628.6,1565.5 664.1,1557.2 699.6,1525.1 735.1,1474.8 770.6,1395.2 806.1,1318.4 841.6,1300.2 1054.6,1305.3" fill="none" stroke="#000" stroke-width="2.2"/>
<polyline points="628.6,1565.5 664.1,1559.6 699.6,1528.7 735.1,1482.4 770.6,1403.6 806.1,1343.4 841.6,1312.1 1054.6,1320.0" fill="none" stroke="#000" stroke-width="2.2"/>
<polyline points="628.6,1567.5 664.1,1563.5 699.6,1546.1 735.1,1504.1 770.6,1417.0 806.1,1364.4 841.6,1342.6 1054.6,1345.3" fill="none" stroke="#000" stroke-width="2.2"/>
<polyline points="628.6,1564.3 664.1,1564.3 699.6,1562.0 735.1,1558.8 770.6,1552.8 806.1,1539.4 841.6,1510.5 1054.6,1486.3" fill="none" stroke="#000" stroke-width="2.2"/>
<line x1="1054.6" y1="1335.4" x2="1054.6" y2="1354.8" stroke="#000" stroke-width="2.2"/>
<line x1="1048.6" y1="1335.4" x2="1060.6" y2="1335.4" stroke="#000" stroke-width="2.2"/>
<line x1="1048.6" y1="1354.8" x2="1060.6" y2="1354.8" stroke="#000" stroke-width="2.2"/>
<line x1="770.6" y1="1409.1" x2="770.6" y2="1428.9" stroke="#000" stroke-width="2.2"/>
<line x1="764.6" y1="1409.1" x2="776.6" y2="1409.1" stroke="#000" stroke-width="2.2"/>
<line x1="764.6" y1="1428.9" x2="776.6" y2="1428.9" stroke="#000" stroke-width="2.2"/>
<line x1="806.1" y1="1359.6" x2="806.1" y2="1369.5" stroke="#000" stroke-width="2.2"/>
<line x1="800.1" y1="1359.6" x2="812.1" y2="1359.6" stroke="#000" stroke-width="2.2"/>
<line x1="800.1" y1="1369.5" x2="812.1" y2="1369.5" stroke="#000" stroke-width="2.2"/>
<line x1="770.6" y1="1407.1" x2="770.6" y2="1413.1" stroke="#000" stroke-width="2.2"/>
<line x1="764.6" y1="1407.1" x2="776.6" y2="1407.1" stroke="#000" stroke-width="2.2"/>
<line x1="764.6" y1="1413.1" x2="776.6" y2="1413.1" stroke="#000" stroke-width="2.2"/>
<line x1="1054.6" y1="1295.1" x2="1054.6" y2="1316.0" stroke="#000" stroke-width="2.2"/>
<line x1="1048.6" y1="1295.1" x2="1060.6" y2="1295.1" stroke="#000" stroke-width="2.2"/>
<line x1="1048.6" y1="1316.0" x2="1060.6" y2="1316.0" stroke="#000" stroke-width="2.2"/>
<circle cx="628.6" cy="1565.5" r="9.1" fill="#fff" stroke="#000" stroke-width="2.2"/>
<circle cx="664.1" cy="1557.2" r="9.1" fill="#fff" stroke="#000" stroke-width="2.2"/>
<circle cx="699.6" cy="1525.1" r="9.1" fill="#fff" stroke="#000" stroke-width="2.2"/>
<circle cx="735.1" cy="1474.8" r="9.1" fill="#fff" stroke="#000" stroke-width="2.2"/>
<circle cx="770.6" cy="1395.2" r="9.1" fill="#fff" stroke="#000" stroke-width="2.2"/>
<circle cx="806.1" cy="1318.4" r="9.1" fill="#fff" stroke="#000" stroke-width="2.2"/>
<circle cx="841.6" cy="1300.2" r="9.1" fill="#fff" stroke="#000" stroke-width="2.2"/>
<circle cx="1054.6" cy="1305.3" r="9.1" fill="#fff" stroke="#000" stroke-width="2.2"/>
<circle cx="628.6" cy="1565.5" r="9.1" fill="#F8AAAA" stroke="#000" stroke-width="2.2"/>
<circle cx="664.1" cy="1559.6" r="9.1" fill="#F8AAAA" stroke="#000" stroke-width="2.2"/>
<circle cx="699.6" cy="1528.7" r="9.1" fill="#F8AAAA" stroke="#000" stroke-width="2.2"/>
<circle cx="735.1" cy="1482.4" r="9.1" fill="#F8AAAA" stroke="#000" stroke-width="2.2"/>
<circle cx="770.6" cy="1403.6" r="9.1" fill="#F8AAAA" stroke="#000" stroke-width="2.2"/>
<circle cx="806.1" cy="1343.4" r="9.1" fill="#F8AAAA" stroke="#000" stroke-width="2.2"/>
<circle cx="841.6" cy="1312.1" r="9.1" fill="#F8AAAA" stroke="#000" stroke-width="2.2"/>
<circle cx="1054.6" cy="1320.0" r="9.1" fill="#F8AAAA" stroke="#000" stroke-width="2.2"/>
<path d="M618.8,1561.0 L638.4,1561.0 L628.6,1577.5 Z" fill="#EE7A8C" stroke="#000" stroke-width="2.2" stroke-linejoin="miter"/>
<path d="M654.3,1557.0 L673.9,1557.0 L664.1,1573.5 Z" fill="#EE7A8C" stroke="#000" stroke-width="2.2" stroke-linejoin="miter"/>
<path d="M689.8,1539.6 L709.4,1539.6 L699.6,1556.1 Z" fill="#EE7A8C" stroke="#000" stroke-width="2.2" stroke-linejoin="miter"/>
<path d="M725.3,1497.6 L744.9,1497.6 L735.1,1514.1 Z" fill="#EE7A8C" stroke="#000" stroke-width="2.2" stroke-linejoin="miter"/>
<path d="M760.8,1410.5 L780.4,1410.5 L770.6,1427.0 Z" fill="#EE7A8C" stroke="#000" stroke-width="2.2" stroke-linejoin="miter"/>
<path d="M796.3,1357.9 L815.9,1357.9 L806.1,1374.4 Z" fill="#EE7A8C" stroke="#000" stroke-width="2.2" stroke-linejoin="miter"/>
<path d="M831.8,1336.1 L851.4,1336.1 L841.6,1352.6 Z" fill="#EE7A8C" stroke="#000" stroke-width="2.2" stroke-linejoin="miter"/>
<path d="M1044.8,1338.8 L1064.4,1338.8 L1054.6,1355.3 Z" fill="#EE7A8C" stroke="#000" stroke-width="2.2" stroke-linejoin="miter"/>
<rect x="620.6" y="1556.3" width="16" height="16" fill="#F00000" stroke="#000" stroke-width="2.2"/>
<rect x="656.1" y="1556.3" width="16" height="16" fill="#F00000" stroke="#000" stroke-width="2.2"/>
<rect x="691.6" y="1554.0" width="16" height="16" fill="#F00000" stroke="#000" stroke-width="2.2"/>
<rect x="727.1" y="1550.8" width="16" height="16" fill="#F00000" stroke="#000" stroke-width="2.2"/>
<rect x="762.6" y="1544.8" width="16" height="16" fill="#F00000" stroke="#000" stroke-width="2.2"/>
<rect x="798.1" y="1531.4" width="16" height="16" fill="#F00000" stroke="#000" stroke-width="2.2"/>
<rect x="833.6" y="1502.5" width="16" height="16" fill="#F00000" stroke="#000" stroke-width="2.2"/>
<rect x="1046.6" y="1478.3" width="16" height="16" fill="#F00000" stroke="#000" stroke-width="2.2"/>
<line x1="659.0" y1="1184.3" x2="705.0" y2="1184.3" stroke="#000" stroke-width="2.2"/>
<circle cx="682.0" cy="1184.3" r="9.1" fill="#fff" stroke="#000" stroke-width="2.2"/>
<text x="715.0" y="1190.8" font-size="19.3" text-anchor="start" font-weight="bold" fill="#000" >None</text>
<line x1="659.0" y1="1209.3" x2="705.0" y2="1209.3" stroke="#000" stroke-width="2.2"/>
<circle cx="682.0" cy="1209.3" r="9.1" fill="#F8AAAA" stroke="#000" stroke-width="2.2"/>
<text x="715.0" y="1215.8" font-size="19.3" text-anchor="start" font-weight="bold" fill="#000" >EPA 5 <tspan font-weight="normal">μ</tspan>g/ml</text>
<line x1="659.0" y1="1235.3" x2="705.0" y2="1235.3" stroke="#000" stroke-width="2.2"/>
<path d="M672.2,1228.8 L691.8,1228.8 L682.0,1245.3 Z" fill="#EE7A8C" stroke="#000" stroke-width="2.2" stroke-linejoin="miter"/>
<text x="715.0" y="1241.8" font-size="19.3" text-anchor="start" font-weight="bold" fill="#000" >EPA 20 <tspan font-weight="normal">μ</tspan>g/ml</text>
<line x1="659.0" y1="1260.3" x2="705.0" y2="1260.3" stroke="#000" stroke-width="2.2"/>
<rect x="674.0" y="1252.3" width="16" height="16" fill="#F00000" stroke="#000" stroke-width="2.2"/>
<text x="715.0" y="1266.8" font-size="19.3" text-anchor="start" font-weight="bold" fill="#000" >EPA 50 <tspan font-weight="normal">μ</tspan>g/ml</text>
</svg></body></html>
